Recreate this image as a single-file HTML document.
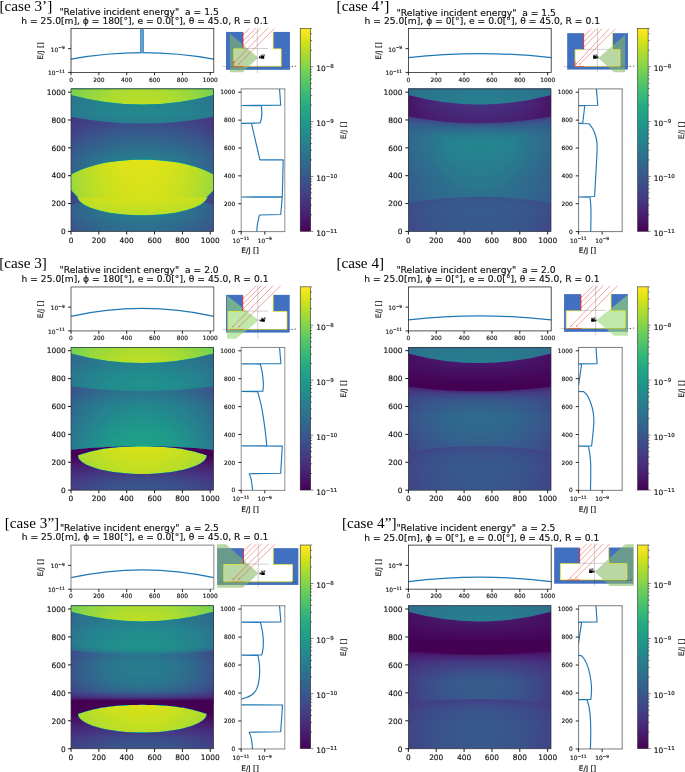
<!DOCTYPE html>
<html><head><meta charset="utf-8"><title>Relative incident energy</title>
<style>html,body{margin:0;padding:0;background:#fff}svg{display:block}</style></head>
<body><svg width="685" height="772" viewBox="0 0 685 772">
<defs><filter id="vir" x="0" y="0" width="1" height="1" color-interpolation-filters="sRGB"><feComponentTransfer><feFuncR type="table" tableValues="0.2670 0.2726 0.2770 0.2803 0.2823 0.2832 0.2829 0.2814 0.2788 0.2752 0.2706 0.2651 0.2590 0.2522 0.2450 0.2374 0.2278 0.2201 0.2124 0.2049 0.1976 0.1906 0.1839 0.1774 0.1712 0.1651 0.1592 0.1534 0.1476 0.1419 0.1364 0.1312 0.1254 0.1218 0.1197 0.1197 0.1223 0.1281 0.1373 0.1501 0.1664 0.1858 0.2080 0.2328 0.2599 0.2889 0.3198 0.3524 0.3952 0.4310 0.4681 0.5063 0.5455 0.5857 0.6266 0.6681 0.7099 0.7519 0.7938 0.8353 0.8762 0.9162 0.9553 0.9932"/><feFuncG type="table" tableValues="0.0049 0.0256 0.0503 0.0734 0.0950 0.1157 0.1359 0.1558 0.1755 0.1949 0.2141 0.2330 0.2515 0.2698 0.2877 0.3052 0.3266 0.3433 0.3597 0.3757 0.3915 0.4071 0.4224 0.4375 0.4525 0.4674 0.4822 0.4970 0.5117 0.5265 0.5412 0.5559 0.5743 0.5891 0.6038 0.6185 0.6332 0.6477 0.6623 0.6766 0.6909 0.7049 0.7187 0.7322 0.7455 0.7584 0.7709 0.7830 0.7975 0.8085 0.8189 0.8288 0.8380 0.8467 0.8546 0.8620 0.8688 0.8750 0.8807 0.8860 0.8911 0.8961 0.9011 0.9062"/><feFuncB type="table" tableValues="0.3294 0.3531 0.3757 0.3972 0.4173 0.4361 0.4534 0.4692 0.4834 0.4960 0.5071 0.5166 0.5247 0.5316 0.5373 0.5419 0.5465 0.5494 0.5517 0.5535 0.5550 0.5561 0.5569 0.5576 0.5580 0.5581 0.5581 0.5577 0.5570 0.5560 0.5545 0.5525 0.5491 0.5456 0.5414 0.5363 0.5304 0.5235 0.5156 0.5066 0.4965 0.4853 0.4729 0.4593 0.4445 0.4284 0.4112 0.3926 0.3678 0.3465 0.3240 0.3004 0.2756 0.2499 0.2234 0.1963 0.1693 0.1432 0.1200 0.1026 0.0953 0.1007 0.1181 0.1439"/></feComponentTransfer></filter><linearGradient id="cbar" x1="0" y1="0" x2="0" y2="1"><stop offset="0.0000" stop-color="#fde725"/><stop offset="0.0312" stop-color="#ece51b"/><stop offset="0.0625" stop-color="#d8e219"/><stop offset="0.0938" stop-color="#c2df23"/><stop offset="0.1250" stop-color="#addc30"/><stop offset="0.1562" stop-color="#98d83e"/><stop offset="0.1875" stop-color="#84d44b"/><stop offset="0.2188" stop-color="#70cf57"/><stop offset="0.2500" stop-color="#5ec962"/><stop offset="0.2812" stop-color="#4ec36b"/><stop offset="0.3125" stop-color="#3fbc73"/><stop offset="0.3438" stop-color="#32b67a"/><stop offset="0.3750" stop-color="#28ae80"/><stop offset="0.4062" stop-color="#22a785"/><stop offset="0.4375" stop-color="#1fa088"/><stop offset="0.4688" stop-color="#1f988b"/><stop offset="0.5000" stop-color="#21918c"/><stop offset="0.5312" stop-color="#23898e"/><stop offset="0.5625" stop-color="#26828e"/><stop offset="0.5938" stop-color="#297a8e"/><stop offset="0.6250" stop-color="#2c728e"/><stop offset="0.6562" stop-color="#2f6b8e"/><stop offset="0.6875" stop-color="#33638d"/><stop offset="0.7188" stop-color="#375b8d"/><stop offset="0.7500" stop-color="#3b528b"/><stop offset="0.7812" stop-color="#3e4989"/><stop offset="0.8125" stop-color="#424086"/><stop offset="0.8438" stop-color="#453781"/><stop offset="0.8750" stop-color="#472d7b"/><stop offset="0.9062" stop-color="#482374"/><stop offset="0.9375" stop-color="#48186a"/><stop offset="0.9688" stop-color="#470d60"/><stop offset="1.0000" stop-color="#440154"/></linearGradient><linearGradient id="g1" gradientUnits="userSpaceOnUse" x1="0" y1="0" x2="0" y2="250"><stop offset="0.0000" stop-color="#5a5a5a"/><stop offset="0.4800" stop-color="#6a6a6a"/><stop offset="1.0000" stop-color="#6b6b6b"/></linearGradient><linearGradient id="g2" gradientUnits="userSpaceOnUse" x1="0" y1="0" x2="1024" y2="0"><stop offset="0.00" stop-color="#000" stop-opacity="0.280"/><stop offset="0.10" stop-color="#000" stop-opacity="0.179"/><stop offset="0.20" stop-color="#000" stop-opacity="0.101"/><stop offset="0.30" stop-color="#000" stop-opacity="0.045"/><stop offset="0.40" stop-color="#000" stop-opacity="0.011"/><stop offset="0.50" stop-color="#000" stop-opacity="0.000"/><stop offset="0.60" stop-color="#000" stop-opacity="0.011"/><stop offset="0.70" stop-color="#000" stop-opacity="0.045"/><stop offset="0.80" stop-color="#000" stop-opacity="0.101"/><stop offset="0.90" stop-color="#000" stop-opacity="0.179"/><stop offset="1.00" stop-color="#000" stop-opacity="0.280"/></linearGradient><linearGradient id="g3" gradientUnits="userSpaceOnUse" x1="0" y1="244" x2="0" y2="830"><stop offset="0.0000" stop-color="#737373"/><stop offset="0.4608" stop-color="#6e6e6e"/><stop offset="0.9078" stop-color="#3c3c3c"/><stop offset="1.0000" stop-color="#383838"/></linearGradient><linearGradient id="g4" gradientUnits="userSpaceOnUse" x1="0" y1="0" x2="1024" y2="0"><stop offset="0.00" stop-color="#000" stop-opacity="0.300"/><stop offset="0.10" stop-color="#000" stop-opacity="0.192"/><stop offset="0.20" stop-color="#000" stop-opacity="0.108"/><stop offset="0.30" stop-color="#000" stop-opacity="0.048"/><stop offset="0.40" stop-color="#000" stop-opacity="0.012"/><stop offset="0.50" stop-color="#000" stop-opacity="0.000"/><stop offset="0.60" stop-color="#000" stop-opacity="0.012"/><stop offset="0.70" stop-color="#000" stop-opacity="0.048"/><stop offset="0.80" stop-color="#000" stop-opacity="0.108"/><stop offset="0.90" stop-color="#000" stop-opacity="0.192"/><stop offset="1.00" stop-color="#000" stop-opacity="0.300"/></linearGradient><linearGradient id="g5" gradientUnits="userSpaceOnUse" x1="0" y1="776" x2="0" y2="980"><stop offset="0.0000" stop-color="#6d6d6d"/><stop offset="0.3627" stop-color="#797979"/><stop offset="0.6324" stop-color="#757575"/><stop offset="1.0000" stop-color="#737373"/></linearGradient><linearGradient id="g6" gradientUnits="userSpaceOnUse" x1="0" y1="0" x2="1024" y2="0"><stop offset="0.00" stop-color="#000" stop-opacity="0.130"/><stop offset="0.10" stop-color="#000" stop-opacity="0.083"/><stop offset="0.20" stop-color="#000" stop-opacity="0.047"/><stop offset="0.30" stop-color="#000" stop-opacity="0.021"/><stop offset="0.40" stop-color="#000" stop-opacity="0.005"/><stop offset="0.50" stop-color="#000" stop-opacity="0.000"/><stop offset="0.60" stop-color="#000" stop-opacity="0.005"/><stop offset="0.70" stop-color="#000" stop-opacity="0.021"/><stop offset="0.80" stop-color="#000" stop-opacity="0.047"/><stop offset="0.90" stop-color="#000" stop-opacity="0.083"/><stop offset="1.00" stop-color="#000" stop-opacity="0.130"/></linearGradient><linearGradient id="g7" gradientUnits="userSpaceOnUse" x1="0" y1="900" x2="0" y2="1024"><stop offset="0.0000" stop-color="#e7e7e7"/><stop offset="1.0000" stop-color="#dfdfdf"/></linearGradient><linearGradient id="g8" gradientUnits="userSpaceOnUse" x1="0" y1="0" x2="1024" y2="0"><stop offset="0.00" stop-color="#000" stop-opacity="0.100"/><stop offset="0.10" stop-color="#000" stop-opacity="0.064"/><stop offset="0.20" stop-color="#000" stop-opacity="0.036"/><stop offset="0.30" stop-color="#000" stop-opacity="0.016"/><stop offset="0.40" stop-color="#000" stop-opacity="0.004"/><stop offset="0.50" stop-color="#000" stop-opacity="0.000"/><stop offset="0.60" stop-color="#000" stop-opacity="0.004"/><stop offset="0.70" stop-color="#000" stop-opacity="0.016"/><stop offset="0.80" stop-color="#000" stop-opacity="0.036"/><stop offset="0.90" stop-color="#000" stop-opacity="0.064"/><stop offset="1.00" stop-color="#000" stop-opacity="0.100"/></linearGradient><linearGradient id="g9" gradientUnits="userSpaceOnUse" x1="0" y1="240" x2="0" y2="514"><stop offset="0.0000" stop-color="#efefef"/><stop offset="1.0000" stop-color="#f4f4f4"/></linearGradient><linearGradient id="g10" gradientUnits="userSpaceOnUse" x1="0" y1="116" x2="0" y2="243"><stop offset="0.0000" stop-color="#e6e6e6"/><stop offset="1.0000" stop-color="#efefef"/></linearGradient><linearGradient id="g11" gradientUnits="userSpaceOnUse" x1="0" y1="0" x2="1024" y2="0"><stop offset="0.00" stop-color="#000" stop-opacity="0.040"/><stop offset="0.10" stop-color="#000" stop-opacity="0.026"/><stop offset="0.20" stop-color="#000" stop-opacity="0.014"/><stop offset="0.30" stop-color="#000" stop-opacity="0.006"/><stop offset="0.40" stop-color="#000" stop-opacity="0.002"/><stop offset="0.50" stop-color="#000" stop-opacity="0.000"/><stop offset="0.60" stop-color="#000" stop-opacity="0.002"/><stop offset="0.70" stop-color="#000" stop-opacity="0.006"/><stop offset="0.80" stop-color="#000" stop-opacity="0.014"/><stop offset="0.90" stop-color="#000" stop-opacity="0.026"/><stop offset="1.00" stop-color="#000" stop-opacity="0.040"/></linearGradient><linearGradient id="g12" gradientUnits="userSpaceOnUse" x1="0" y1="0" x2="0" y2="250"><stop offset="0.0000" stop-color="#464646"/><stop offset="0.6800" stop-color="#494949"/><stop offset="1.0000" stop-color="#424242"/></linearGradient><linearGradient id="g13" gradientUnits="userSpaceOnUse" x1="0" y1="0" x2="1024" y2="0"><stop offset="0.00" stop-color="#000" stop-opacity="0.180"/><stop offset="0.10" stop-color="#000" stop-opacity="0.115"/><stop offset="0.20" stop-color="#000" stop-opacity="0.065"/><stop offset="0.30" stop-color="#000" stop-opacity="0.029"/><stop offset="0.40" stop-color="#000" stop-opacity="0.007"/><stop offset="0.50" stop-color="#000" stop-opacity="0.000"/><stop offset="0.60" stop-color="#000" stop-opacity="0.007"/><stop offset="0.70" stop-color="#000" stop-opacity="0.029"/><stop offset="0.80" stop-color="#000" stop-opacity="0.065"/><stop offset="0.90" stop-color="#000" stop-opacity="0.115"/><stop offset="1.00" stop-color="#000" stop-opacity="0.180"/></linearGradient><linearGradient id="g14" gradientUnits="userSpaceOnUse" x1="0" y1="200" x2="0" y2="830"><stop offset="0.0000" stop-color="#5c5c5c"/><stop offset="0.3175" stop-color="#636363"/><stop offset="0.6349" stop-color="#6d6d6d"/><stop offset="1.0000" stop-color="#6d6d6d"/></linearGradient><linearGradient id="g15" gradientUnits="userSpaceOnUse" x1="0" y1="0" x2="1024" y2="0"><stop offset="0.00" stop-color="#000" stop-opacity="0.210"/><stop offset="0.10" stop-color="#000" stop-opacity="0.134"/><stop offset="0.20" stop-color="#000" stop-opacity="0.076"/><stop offset="0.30" stop-color="#000" stop-opacity="0.034"/><stop offset="0.40" stop-color="#000" stop-opacity="0.008"/><stop offset="0.50" stop-color="#000" stop-opacity="0.000"/><stop offset="0.60" stop-color="#000" stop-opacity="0.008"/><stop offset="0.70" stop-color="#000" stop-opacity="0.034"/><stop offset="0.80" stop-color="#000" stop-opacity="0.076"/><stop offset="0.90" stop-color="#000" stop-opacity="0.134"/><stop offset="1.00" stop-color="#000" stop-opacity="0.210"/></linearGradient><radialGradient id="g16" gradientUnits="userSpaceOnUse" cx="512" cy="3450.94" r="2824.94"><stop offset="0.94690" stop-color="#000" stop-opacity="0.450"/><stop offset="0.96124" stop-color="#000" stop-opacity="0.200"/><stop offset="0.98779" stop-color="#000" stop-opacity="0.020"/><stop offset="1.00000" stop-color="#000" stop-opacity="0.000"/></radialGradient><linearGradient id="g17" gradientUnits="userSpaceOnUse" x1="0" y1="776" x2="0" y2="980"><stop offset="0.0000" stop-color="#181818"/><stop offset="0.6324" stop-color="#242424"/><stop offset="1.0000" stop-color="#242424"/></linearGradient><linearGradient id="g18" gradientUnits="userSpaceOnUse" x1="0" y1="0" x2="1024" y2="0"><stop offset="0.00" stop-color="#000" stop-opacity="0.600"/><stop offset="0.10" stop-color="#000" stop-opacity="0.384"/><stop offset="0.20" stop-color="#000" stop-opacity="0.216"/><stop offset="0.30" stop-color="#000" stop-opacity="0.096"/><stop offset="0.40" stop-color="#000" stop-opacity="0.024"/><stop offset="0.50" stop-color="#000" stop-opacity="0.000"/><stop offset="0.60" stop-color="#000" stop-opacity="0.024"/><stop offset="0.70" stop-color="#000" stop-opacity="0.096"/><stop offset="0.80" stop-color="#000" stop-opacity="0.216"/><stop offset="0.90" stop-color="#000" stop-opacity="0.384"/><stop offset="1.00" stop-color="#000" stop-opacity="0.600"/></linearGradient><linearGradient id="g19" gradientUnits="userSpaceOnUse" x1="0" y1="900" x2="0" y2="1024"><stop offset="0.0000" stop-color="#707070"/><stop offset="1.0000" stop-color="#676767"/></linearGradient><linearGradient id="g20" gradientUnits="userSpaceOnUse" x1="0" y1="0" x2="1024" y2="0"><stop offset="0.00" stop-color="#000" stop-opacity="0.120"/><stop offset="0.10" stop-color="#000" stop-opacity="0.077"/><stop offset="0.20" stop-color="#000" stop-opacity="0.043"/><stop offset="0.30" stop-color="#000" stop-opacity="0.019"/><stop offset="0.40" stop-color="#000" stop-opacity="0.005"/><stop offset="0.50" stop-color="#000" stop-opacity="0.000"/><stop offset="0.60" stop-color="#000" stop-opacity="0.005"/><stop offset="0.70" stop-color="#000" stop-opacity="0.019"/><stop offset="0.80" stop-color="#000" stop-opacity="0.043"/><stop offset="0.90" stop-color="#000" stop-opacity="0.077"/><stop offset="1.00" stop-color="#000" stop-opacity="0.120"/></linearGradient><radialGradient id="g21" gradientUnits="userSpaceOnUse" cx="0" cy="0" r="1" gradientTransform="translate(512 0) scale(1260 280)"><stop offset="0.0000" stop-color="#444444"/><stop offset="0.1400" stop-color="#424242"/><stop offset="0.2750" stop-color="#3c3c3c"/><stop offset="0.4300" stop-color="#2e2e2e"/><stop offset="0.5800" stop-color="#212121"/><stop offset="0.8750" stop-color="#080808"/><stop offset="0.9700" stop-color="#000000"/></radialGradient><linearGradient id="g22" gradientUnits="userSpaceOnUse" x1="0" y1="285" x2="0" y2="750"><stop offset="0.0000" stop-color="#969696"/><stop offset="0.3247" stop-color="#8b8b8b"/><stop offset="0.6774" stop-color="#787878"/><stop offset="0.9118" stop-color="#606060"/><stop offset="1.0000" stop-color="#5c5c5c"/></linearGradient><linearGradient id="g23" gradientUnits="userSpaceOnUse" x1="0" y1="0" x2="1024" y2="0"><stop offset="0.00" stop-color="#000" stop-opacity="0.310"/><stop offset="0.10" stop-color="#000" stop-opacity="0.198"/><stop offset="0.20" stop-color="#000" stop-opacity="0.112"/><stop offset="0.30" stop-color="#000" stop-opacity="0.050"/><stop offset="0.40" stop-color="#000" stop-opacity="0.012"/><stop offset="0.50" stop-color="#000" stop-opacity="0.000"/><stop offset="0.60" stop-color="#000" stop-opacity="0.012"/><stop offset="0.70" stop-color="#000" stop-opacity="0.050"/><stop offset="0.80" stop-color="#000" stop-opacity="0.112"/><stop offset="0.90" stop-color="#000" stop-opacity="0.198"/><stop offset="1.00" stop-color="#000" stop-opacity="0.310"/></linearGradient><linearGradient id="g24" gradientUnits="userSpaceOnUse" x1="0" y1="710" x2="0" y2="980"><stop offset="0.0000" stop-color="#7e7e7e"/><stop offset="0.1963" stop-color="#828282"/><stop offset="0.4963" stop-color="#7b7b7b"/><stop offset="0.7259" stop-color="#707070"/><stop offset="1.0000" stop-color="#6b6b6b"/></linearGradient><linearGradient id="g25" gradientUnits="userSpaceOnUse" x1="0" y1="0" x2="1024" y2="0"><stop offset="0.00" stop-color="#000" stop-opacity="0.200"/><stop offset="0.10" stop-color="#000" stop-opacity="0.128"/><stop offset="0.20" stop-color="#000" stop-opacity="0.072"/><stop offset="0.30" stop-color="#000" stop-opacity="0.032"/><stop offset="0.40" stop-color="#000" stop-opacity="0.008"/><stop offset="0.50" stop-color="#000" stop-opacity="0.000"/><stop offset="0.60" stop-color="#000" stop-opacity="0.008"/><stop offset="0.70" stop-color="#000" stop-opacity="0.032"/><stop offset="0.80" stop-color="#000" stop-opacity="0.072"/><stop offset="0.90" stop-color="#000" stop-opacity="0.128"/><stop offset="1.00" stop-color="#000" stop-opacity="0.200"/></linearGradient><linearGradient id="g26" gradientUnits="userSpaceOnUse" x1="0" y1="900" x2="0" y2="1024"><stop offset="0.0000" stop-color="#e7e7e7"/><stop offset="1.0000" stop-color="#dfdfdf"/></linearGradient><linearGradient id="g27" gradientUnits="userSpaceOnUse" x1="0" y1="116" x2="0" y2="317"><stop offset="0.0000" stop-color="#e6e6e6"/><stop offset="1.0000" stop-color="#f1f1f1"/></linearGradient><linearGradient id="g28" gradientUnits="userSpaceOnUse" x1="0" y1="0" x2="1024" y2="0"><stop offset="0.00" stop-color="#000" stop-opacity="0.080"/><stop offset="0.10" stop-color="#000" stop-opacity="0.051"/><stop offset="0.20" stop-color="#000" stop-opacity="0.029"/><stop offset="0.30" stop-color="#000" stop-opacity="0.013"/><stop offset="0.40" stop-color="#000" stop-opacity="0.003"/><stop offset="0.50" stop-color="#000" stop-opacity="0.000"/><stop offset="0.60" stop-color="#000" stop-opacity="0.003"/><stop offset="0.70" stop-color="#000" stop-opacity="0.013"/><stop offset="0.80" stop-color="#000" stop-opacity="0.029"/><stop offset="0.90" stop-color="#000" stop-opacity="0.051"/><stop offset="1.00" stop-color="#000" stop-opacity="0.080"/></linearGradient><linearGradient id="g29" gradientUnits="userSpaceOnUse" x1="0" y1="0" x2="0" y2="317"><stop offset="0.0000" stop-color="#454545"/><stop offset="0.5521" stop-color="#474747"/><stop offset="0.8076" stop-color="#424242"/><stop offset="1.0000" stop-color="#393939"/></linearGradient><linearGradient id="g30" gradientUnits="userSpaceOnUse" x1="0" y1="0" x2="1024" y2="0"><stop offset="0.00" stop-color="#000" stop-opacity="0.220"/><stop offset="0.10" stop-color="#000" stop-opacity="0.141"/><stop offset="0.20" stop-color="#000" stop-opacity="0.079"/><stop offset="0.30" stop-color="#000" stop-opacity="0.035"/><stop offset="0.40" stop-color="#000" stop-opacity="0.009"/><stop offset="0.50" stop-color="#000" stop-opacity="0.000"/><stop offset="0.60" stop-color="#000" stop-opacity="0.009"/><stop offset="0.70" stop-color="#000" stop-opacity="0.035"/><stop offset="0.80" stop-color="#000" stop-opacity="0.079"/><stop offset="0.90" stop-color="#000" stop-opacity="0.141"/><stop offset="1.00" stop-color="#000" stop-opacity="0.220"/></linearGradient><linearGradient id="g31" gradientUnits="userSpaceOnUse" x1="0" y1="270" x2="0" y2="750"><stop offset="0.0000" stop-color="#4a4a4a"/><stop offset="0.3458" stop-color="#565656"/><stop offset="0.5167" stop-color="#5a5a5a"/><stop offset="0.6875" stop-color="#505050"/><stop offset="1.0000" stop-color="#4c4c4c"/></linearGradient><radialGradient id="g32" gradientUnits="userSpaceOnUse" cx="512" cy="4453.91" r="3914.91"><stop offset="0.95658" stop-color="#000" stop-opacity="0.640"/><stop offset="0.96374" stop-color="#000" stop-opacity="0.300"/><stop offset="0.97395" stop-color="#000" stop-opacity="0.100"/><stop offset="0.98437" stop-color="#000" stop-opacity="0.000"/><stop offset="1.00000" stop-color="#000" stop-opacity="0.000"/></radialGradient><linearGradient id="g33" gradientUnits="userSpaceOnUse" x1="0" y1="700" x2="0" y2="980"><stop offset="0.0000" stop-color="#000000"/><stop offset="0.1964" stop-color="#000000"/><stop offset="0.5143" stop-color="#0a0a0a"/><stop offset="0.7357" stop-color="#111111"/><stop offset="1.0000" stop-color="#141414"/></linearGradient><linearGradient id="g34" gradientUnits="userSpaceOnUse" x1="0" y1="0" x2="1024" y2="0"><stop offset="0.00" stop-color="#000" stop-opacity="0.500"/><stop offset="0.10" stop-color="#000" stop-opacity="0.320"/><stop offset="0.20" stop-color="#000" stop-opacity="0.180"/><stop offset="0.30" stop-color="#000" stop-opacity="0.080"/><stop offset="0.40" stop-color="#000" stop-opacity="0.020"/><stop offset="0.50" stop-color="#000" stop-opacity="0.000"/><stop offset="0.60" stop-color="#000" stop-opacity="0.020"/><stop offset="0.70" stop-color="#000" stop-opacity="0.080"/><stop offset="0.80" stop-color="#000" stop-opacity="0.180"/><stop offset="0.90" stop-color="#000" stop-opacity="0.320"/><stop offset="1.00" stop-color="#000" stop-opacity="0.500"/></linearGradient><linearGradient id="g35" gradientUnits="userSpaceOnUse" x1="0" y1="900" x2="0" y2="1024"><stop offset="0.0000" stop-color="#707070"/><stop offset="1.0000" stop-color="#676767"/></linearGradient><radialGradient id="g36" gradientUnits="userSpaceOnUse" cx="0" cy="0" r="1" gradientTransform="translate(512 0) scale(1260 280)"><stop offset="0.0000" stop-color="#444444"/><stop offset="0.1400" stop-color="#424242"/><stop offset="0.2750" stop-color="#3c3c3c"/><stop offset="0.4300" stop-color="#2e2e2e"/><stop offset="0.5800" stop-color="#212121"/><stop offset="0.8750" stop-color="#080808"/><stop offset="0.9700" stop-color="#000000"/></radialGradient><linearGradient id="g37" gradientUnits="userSpaceOnUse" x1="0" y1="320" x2="0" y2="710"><stop offset="0.0000" stop-color="#000000"/><stop offset="0.0795" stop-color="#000000"/><stop offset="0.0846" stop-color="#171717"/><stop offset="0.1436" stop-color="#363636"/><stop offset="0.2385" stop-color="#565656"/><stop offset="0.3846" stop-color="#666666"/><stop offset="0.5949" stop-color="#6d6d6d"/><stop offset="0.8051" stop-color="#686868"/><stop offset="0.8974" stop-color="#616161"/><stop offset="1.0000" stop-color="#5e5e5e"/></linearGradient><linearGradient id="g38" gradientUnits="userSpaceOnUse" x1="0" y1="0" x2="1024" y2="0"><stop offset="0.00" stop-color="#000" stop-opacity="0.400"/><stop offset="0.10" stop-color="#000" stop-opacity="0.256"/><stop offset="0.20" stop-color="#000" stop-opacity="0.144"/><stop offset="0.30" stop-color="#000" stop-opacity="0.064"/><stop offset="0.40" stop-color="#000" stop-opacity="0.016"/><stop offset="0.50" stop-color="#000" stop-opacity="0.000"/><stop offset="0.60" stop-color="#000" stop-opacity="0.016"/><stop offset="0.70" stop-color="#000" stop-opacity="0.064"/><stop offset="0.80" stop-color="#000" stop-opacity="0.144"/><stop offset="0.90" stop-color="#000" stop-opacity="0.256"/><stop offset="1.00" stop-color="#000" stop-opacity="0.400"/></linearGradient><linearGradient id="g39" gradientUnits="userSpaceOnUse" x1="0" y1="674" x2="0" y2="980"><stop offset="0.0000" stop-color="#808080"/><stop offset="0.0817" stop-color="#818181"/><stop offset="0.2941" stop-color="#828282"/><stop offset="0.5621" stop-color="#7b7b7b"/><stop offset="0.7549" stop-color="#707070"/><stop offset="1.0000" stop-color="#6b6b6b"/></linearGradient><radialGradient id="g40" gradientUnits="userSpaceOnUse" cx="512" cy="5193.72" r="4519.72"><stop offset="0.99004" stop-color="#000" stop-opacity="0.000"/><stop offset="0.99303" stop-color="#000" stop-opacity="0.030"/><stop offset="0.99652" stop-color="#000" stop-opacity="0.100"/><stop offset="1.00000" stop-color="#000" stop-opacity="0.200"/></radialGradient><linearGradient id="g41" gradientUnits="userSpaceOnUse" x1="0" y1="900" x2="0" y2="1024"><stop offset="0.0000" stop-color="#e7e7e7"/><stop offset="1.0000" stop-color="#dfdfdf"/></linearGradient><linearGradient id="g42" gradientUnits="userSpaceOnUse" x1="0" y1="116" x2="0" y2="317"><stop offset="0.0000" stop-color="#e6e6e6"/><stop offset="1.0000" stop-color="#f1f1f1"/></linearGradient><linearGradient id="g43" gradientUnits="userSpaceOnUse" x1="0" y1="0" x2="0" y2="356"><stop offset="0.0000" stop-color="#454545"/><stop offset="0.4944" stop-color="#474747"/><stop offset="0.8174" stop-color="#404040"/><stop offset="1.0000" stop-color="#313131"/></linearGradient><linearGradient id="g44" gradientUnits="userSpaceOnUse" x1="0" y1="0" x2="1024" y2="0"><stop offset="0.00" stop-color="#000" stop-opacity="0.250"/><stop offset="0.10" stop-color="#000" stop-opacity="0.160"/><stop offset="0.20" stop-color="#000" stop-opacity="0.090"/><stop offset="0.30" stop-color="#000" stop-opacity="0.040"/><stop offset="0.40" stop-color="#000" stop-opacity="0.010"/><stop offset="0.50" stop-color="#000" stop-opacity="0.000"/><stop offset="0.60" stop-color="#000" stop-opacity="0.010"/><stop offset="0.70" stop-color="#000" stop-opacity="0.040"/><stop offset="0.80" stop-color="#000" stop-opacity="0.090"/><stop offset="0.90" stop-color="#000" stop-opacity="0.160"/><stop offset="1.00" stop-color="#000" stop-opacity="0.250"/></linearGradient><linearGradient id="g45" gradientUnits="userSpaceOnUse" x1="0" y1="320" x2="0" y2="700"><stop offset="0.0000" stop-color="#454545"/><stop offset="0.3105" stop-color="#4c4c4c"/><stop offset="0.5684" stop-color="#474747"/><stop offset="1.0000" stop-color="#474747"/></linearGradient><linearGradient id="g46" gradientUnits="userSpaceOnUse" x1="0" y1="0" x2="1024" y2="0"><stop offset="0.00" stop-color="#000" stop-opacity="0.380"/><stop offset="0.10" stop-color="#000" stop-opacity="0.243"/><stop offset="0.20" stop-color="#000" stop-opacity="0.137"/><stop offset="0.30" stop-color="#000" stop-opacity="0.061"/><stop offset="0.40" stop-color="#000" stop-opacity="0.015"/><stop offset="0.50" stop-color="#000" stop-opacity="0.000"/><stop offset="0.60" stop-color="#000" stop-opacity="0.015"/><stop offset="0.70" stop-color="#000" stop-opacity="0.061"/><stop offset="0.80" stop-color="#000" stop-opacity="0.137"/><stop offset="0.90" stop-color="#000" stop-opacity="0.243"/><stop offset="1.00" stop-color="#000" stop-opacity="0.380"/></linearGradient><radialGradient id="g47" gradientUnits="userSpaceOnUse" cx="512" cy="6632.82" r="6157.82"><stop offset="0.96752" stop-color="#000" stop-opacity="0.850"/><stop offset="0.96898" stop-color="#000" stop-opacity="0.710"/><stop offset="0.97694" stop-color="#000" stop-opacity="0.360"/><stop offset="0.99026" stop-color="#000" stop-opacity="0.070"/><stop offset="1.00000" stop-color="#000" stop-opacity="0.000"/></radialGradient><linearGradient id="g48" gradientUnits="userSpaceOnUse" x1="0" y1="670" x2="0" y2="980"><stop offset="0.0000" stop-color="#000000"/><stop offset="0.2774" stop-color="#000000"/><stop offset="0.5677" stop-color="#0a0a0a"/><stop offset="0.7581" stop-color="#111111"/><stop offset="1.0000" stop-color="#141414"/></linearGradient><linearGradient id="g49" gradientUnits="userSpaceOnUse" x1="0" y1="900" x2="0" y2="1024"><stop offset="0.0000" stop-color="#707070"/><stop offset="1.0000" stop-color="#676767"/></linearGradient><clipPath id="sclip"><rect x="241.20" y="88.90" width="43.60" height="142.70"/></clipPath></defs>
<rect width="685" height="772" fill="#fff"/>
<g transform="translate(0.00 0.00) scale(1 1.0000)"><text x="-0.50" y="10.90" font-size="15.2" font-family="Liberation Serif, serif" fill="#000">[case 3’]</text><g font-family="DejaVu Sans, Liberation Sans, sans-serif" fill="#111" stroke="#111" stroke-width="0.16"><text x="59.40" y="15.40" font-size="9.16" style="white-space:pre">"Relative incident energy"  a = 1.5</text><text x="21.30" y="24.30" font-size="9.16">h = 25.0[m], ϕ = 180[°], e = 0.0[°], θ = 45.0, R = 0.1</text><rect x="71.00" y="28.50" width="142.80" height="43.90" fill="#fff" stroke="none"/><path d="M71.00 59.10 Q142.40 46.10 213.80 59.10" fill="none" stroke="#1f77b4" stroke-width="1.25"/><path d="M140.65 52.60 V29.7 h2.7 V52.60" fill="#6fa6d0" stroke="#3f87bf" stroke-width="1.0" stroke-linejoin="round"/><rect x="71.00" y="28.50" width="142.80" height="43.90" fill="none" stroke="#1a1a1a" stroke-width="0.75"/><text x="71.00" y="81.70" font-size="5.90" text-anchor="middle" >0</text><text x="98.85" y="81.70" font-size="5.90" text-anchor="middle" >200</text><text x="126.70" y="81.70" font-size="5.90" text-anchor="middle" >400</text><text x="154.55" y="81.70" font-size="5.90" text-anchor="middle" >600</text><text x="182.41" y="81.70" font-size="5.90" text-anchor="middle" >800</text><text x="210.26" y="81.70" font-size="5.90" text-anchor="middle" >1000</text><text x="64.70" y="75.30" font-size="5.90" text-anchor="end" >10<tspan dy="-2.36" font-size="4.37">−11</tspan></text><text x="64.70" y="51.56" font-size="5.90" text-anchor="end" >10<tspan dy="-2.36" font-size="4.37">−9</tspan></text><path d="M71.00 72.40 v2.9 M98.85 72.40 v2.9 M126.70 72.40 v2.9 M154.55 72.40 v2.9 M182.41 72.40 v2.9 M210.26 72.40 v2.9 M71.00 72.40 h-2.9 M71.00 48.66 h-2.9 " stroke="#000" stroke-width="0.85" fill="none"/><text transform="translate(43.4 51) rotate(-90)" font-size="7.45" text-anchor="middle">E/J []</text><g filter="url(#vir)" stroke="none"><g transform="translate(71 231.4) scale(0.139258 -0.139258)"><path d="M0 0H1024V1024H0Z" fill="url(#g1)"/><path d="M0 0H1024V1024H0Z" fill="url(#g2)"/><path d="M0 1024 L1024 1024 L1024 244 L0 244 Z" fill="url(#g3)"/><path d="M0 1024 L1024 1024 L1024 244 L0 244 Z" fill="url(#g4)"/><path d="M0 190 L70 212 L0 300 Z M1024 190 L954 212 L1024 300 Z" fill="#363636"/><path d="M0 1024 L1024 1024 L1024 824 Q512 726 0 824 Z" fill="url(#g5)"/><path d="M0 1024 L1024 1024 L1024 824 Q512 726 0 824 Z" fill="url(#g6)"/><path d="M0 1024 L1024 1024 L1024 980 Q512 842 0 980 Z" fill="url(#g7)"/><path d="M0 1024 L1024 1024 L1024 980 Q512 842 0 980 Z" fill="url(#g8)"/><path d="M0 408 L43 431 L85 448 L128 463 L171 475 L213 485 L256 494 L299 500 L341 506 L384 510 L427 513 L469 514 L512 515 L555 514 L597 513 L640 510 L683 506 L725 500 L768 494 L811 485 L853 475 L896 463 L939 448 L981 431 L1024 408 L1024 295 L969 240 L55 240 L0 295 Z" fill="url(#g9)"/><path d="M0 408 L43 431 L85 448 L128 463 L171 475 L213 485 L256 494 L299 500 L341 506 L384 510 L427 513 L469 514 L512 515 L555 514 L597 513 L640 510 L683 506 L725 500 L768 494 L811 485 L853 475 L896 463 L939 448 L981 431 L1024 408 L1024 295 L969 240 L55 240 L0 295 Z" fill="url(#g8)"/><path d="M43 243 L981 243 L961 215 959 215 L949 206 L937 197 L923 188 L906 180 L888 172 L867 164 L845 157 L820 150 L794 144 L767 138 L738 133 L708 129 L677 125 L645 122 L612 119 L579 117 L546 116 L512 116 L478 116 L445 117 L412 119 L379 122 L347 125 L316 129 L286 133 L257 138 L230 144 L204 150 L179 157 L157 164 L136 172 L118 180 L101 188 L87 197 L75 206 L65 215 L63 215 Z" fill="url(#g10)"/><path d="M43 243 L981 243 L961 215 959 215 L949 206 L937 197 L923 188 L906 180 L888 172 L867 164 L845 157 L820 150 L794 144 L767 138 L738 133 L708 129 L677 125 L645 122 L612 119 L579 117 L546 116 L512 116 L478 116 L445 117 L412 119 L379 122 L347 125 L316 129 L286 133 L257 138 L230 144 L204 150 L179 157 L157 164 L136 172 L118 180 L101 188 L87 197 L75 206 L65 215 L63 215 Z" fill="url(#g11)"/></g></g><rect x="71.00" y="88.90" width="142.60" height="142.50" fill="none" stroke="#333" stroke-width="0.7"/><text x="71.00" y="242.70" font-size="7.45" text-anchor="middle" >0</text><text x="65.80" y="234.15" font-size="7.45" text-anchor="end" >0</text><text x="98.85" y="242.70" font-size="7.45" text-anchor="middle" >200</text><text x="65.80" y="206.30" font-size="7.45" text-anchor="end" >200</text><text x="126.70" y="242.70" font-size="7.45" text-anchor="middle" >400</text><text x="65.80" y="178.45" font-size="7.45" text-anchor="end" >400</text><text x="154.55" y="242.70" font-size="7.45" text-anchor="middle" >600</text><text x="65.80" y="150.60" font-size="7.45" text-anchor="end" >600</text><text x="182.41" y="242.70" font-size="7.45" text-anchor="middle" >800</text><text x="65.80" y="122.74" font-size="7.45" text-anchor="end" >800</text><text x="210.26" y="242.70" font-size="7.45" text-anchor="middle" >1000</text><text x="65.80" y="94.89" font-size="7.45" text-anchor="end" >1000</text><path d="M71.00 231.40 v3.1 M71.00 231.40 h-3.1 M98.85 231.40 v3.1 M71.00 203.55 h-3.1 M126.70 231.40 v3.1 M71.00 175.70 h-3.1 M154.55 231.40 v3.1 M71.00 147.85 h-3.1 M182.41 231.40 v3.1 M71.00 119.99 h-3.1 M210.26 231.40 v3.1 M71.00 92.14 h-3.1 " stroke="#000" stroke-width="0.9" fill="none"/><rect x="241.20" y="88.90" width="43.60" height="142.70" fill="#fff" stroke="none"/><path d="M256.72 231.60 L257.06 227.62 Q257.41 223.63 258.43 219.31 L259.46 214.99 L280.69 214.53 L282.29 197.23 L238.92 197.01 L282.29 196.78 L283.20 159.91 L259.92 159.91 L251.47 123.49 L238.92 123.49 L259.92 123.04 L260.72 120.99 Q261.52 118.94 261.74 115.53 L261.74 115.53 Q261.97 112.11 261.63 108.93 L261.29 105.74 L238.92 105.51 L280.69 105.29 L279.55 88.90" fill="none" stroke="#1f77b4" stroke-width="1.15" stroke-linejoin="round" clip-path="url(#sclip)"/><path d="M241.20 88.90 V231.60 M284.80 88.90 V231.60" fill="none" stroke="#8a8a8a" stroke-width="0.95"/><path d="M240.72 88.90 H285.28 M240.72 231.60 H285.28" fill="none" stroke="#444" stroke-width="0.65"/><text x="235.30" y="233.75" font-size="5.90" text-anchor="end" >0</text><text x="235.30" y="205.88" font-size="5.90" text-anchor="end" >200</text><text x="235.30" y="178.01" font-size="5.90" text-anchor="end" >400</text><text x="235.30" y="150.14" font-size="5.90" text-anchor="end" >600</text><text x="235.30" y="122.27" font-size="5.90" text-anchor="end" >800</text><text x="235.30" y="94.39" font-size="5.90" text-anchor="end" >1000</text><text x="240.90" y="242.50" font-size="5.90" text-anchor="middle" >10<tspan dy="-2.36" font-size="4.37">−11</tspan></text><text x="264.77" y="242.50" font-size="5.90" text-anchor="middle" >10<tspan dy="-2.36" font-size="4.37">−9</tspan></text><path d="M241.20 231.60 h-2.9 M241.20 203.73 h-2.9 M241.20 175.86 h-2.9 M241.20 147.99 h-2.9 M241.20 120.12 h-2.9 M241.20 92.24 h-2.9 M241.20 231.60 v2.9 M264.77 231.60 v2.9 " stroke="#000" stroke-width="0.85" fill="none"/><text x="241.3" y="253.2" font-size="7.45">E/J []</text><rect x="300.20" y="28.40" width="10.50" height="202.90" fill="url(#cbar)" stroke="#222" stroke-width="0.55"/><text x="316.30" y="235.90" font-size="7.45" text-anchor="start" >10<tspan dy="-2.98" font-size="5.51">−11</tspan></text><text x="316.30" y="181.05" font-size="7.45" text-anchor="start" >10<tspan dy="-2.98" font-size="5.51">−10</tspan></text><text x="316.30" y="126.19" font-size="7.45" text-anchor="start" >10<tspan dy="-2.98" font-size="5.51">−9</tspan></text><text x="316.30" y="71.34" font-size="7.45" text-anchor="start" >10<tspan dy="-2.98" font-size="5.51">−8</tspan></text><path d="M310.70 231.30 h2.7 M310.70 214.79 h1.5 M310.70 205.13 h1.5 M310.70 198.28 h1.5 M310.70 192.96 h1.5 M310.70 188.62 h1.5 M310.70 184.94 h1.5 M310.70 181.76 h1.5 M310.70 178.96 h1.5 M310.70 176.45 h2.7 M310.70 159.94 h1.5 M310.70 150.28 h1.5 M310.70 143.42 h1.5 M310.70 138.11 h1.5 M310.70 133.76 h1.5 M310.70 130.09 h1.5 M310.70 126.91 h1.5 M310.70 124.10 h1.5 M310.70 121.59 h2.7 M310.70 105.08 h1.5 M310.70 95.42 h1.5 M310.70 88.57 h1.5 M310.70 83.25 h1.5 M310.70 78.91 h1.5 M310.70 75.24 h1.5 M310.70 72.06 h1.5 M310.70 69.25 h1.5 M310.70 66.74 h2.7 M310.70 50.23 h1.5 M310.70 40.57 h1.5 M310.70 33.72 h1.5 M310.70 28.40 h1.5 " stroke="#222" stroke-width="0.55" fill="none"/><text transform="translate(346.2 130.4) rotate(-90)" font-size="7.45" text-anchor="middle">E/J []</text></g><g><rect x="226.03" y="31.91" width="63.90" height="37.92" fill="#4270c0"/><rect x="242.98" y="30.91" width="30.13" height="19.45" fill="#fff"/><rect x="233.81" y="48.86" width="47.33" height="17.58" fill="#fff"/><polygon points="229.79 33.42 258.29 57.65 242.60 72.34 229.79 72.34" fill="#87b964" fill-opacity="0.58"/><path d="M242.98 48.86 L233.81 48.86 L233.81 66.44 L281.14 66.44 L281.14 48.86 L273.11 48.86 L273.11 31.91" fill="none" stroke="#f0ec30" stroke-width="0.75"/><path d="M257.29 27.77 L257.29 72.96 M222.51 66.44 L292.19 66.44 M242.98 48.48 L268.08 48.48" stroke="#444" stroke-width="0.25" fill="none"/><path d="M293.19 66.44 l-1.2 -0.6 v1.2 z" fill="#111"/><text x="294.70" y="67.34" font-size="2.8" font-family="DejaVu Sans, Liberation Sans, sans-serif" fill="#222">x</text><path d="M249.50 28.39 L242.98 34.92 M255.53 28.39 L242.98 40.95 M260.43 28.39 L242.98 45.85 M267.71 28.39 L233.56 63.17 M274.61 28.39 L238.20 64.43 " stroke="#e23b30" stroke-width="0.46" fill="none"/><path d="M233.56 63.17 l1.3 -0.3 l-1 -1 z" fill="#e23b30"/><path d="M238.20 64.43 l1.3 -0.3 l-1 -1 z" fill="#e23b30"/><path d="M242.98 32.16 L242.98 48.36" stroke="#e81c24" stroke-width="0.8" fill="none"/><path d="M243.73 34.96 l-1.0 0 l0.9 -0.8 z" fill="#e81c24"/><path d="M243.73 40.38 l-1.0 0 l0.9 -0.8 z" fill="#e81c24"/><path d="M243.73 45.81 l-1.0 0 l0.9 -0.8 z" fill="#e81c24"/><path d="M233.81 66.44 L243.85 66.44" stroke="#e8402a" stroke-width="0.7" fill="none"/><path d="M233.81 66.44 L233.81 61.04" stroke="#e8402a" stroke-width="0.7" fill="none"/><rect x="260.64" y="55.99" width="3.6" height="2.7" rx="0.3" fill="#000"/><path d="M261.24 57.34 l-2.20 -1.3 v2.6 z" fill="#000"/><text x="262.74" y="55.59" font-size="2.9" font-weight="bold" font-family="DejaVu Sans, Liberation Sans, sans-serif" fill="#000" text-anchor="middle">ωo</text></g></g><g transform="translate(337.40 0.00) scale(1 1.0000)"><text x="-0.80" y="10.70" font-size="15.2" font-family="Liberation Serif, serif" fill="#000">[case 4’]</text><g font-family="DejaVu Sans, Liberation Sans, sans-serif" fill="#111" stroke="#111" stroke-width="0.16"><text x="59.20" y="15.50" font-size="9.16" style="white-space:pre">"Relative incident energy"  a = 1.5</text><text x="27.20" y="23.90" font-size="9.16">h = 25.0[m], ϕ = 0[°], e = 0.0[°], θ = 45.0, R = 0.1</text><rect x="71.00" y="28.50" width="142.80" height="43.90" fill="#fff" stroke="none"/><path d="M71.00 57.60 Q142.40 49.60 213.80 57.60" fill="none" stroke="#1f77b4" stroke-width="1.25"/><rect x="71.00" y="28.50" width="142.80" height="43.90" fill="none" stroke="#1a1a1a" stroke-width="0.75"/><text x="71.00" y="81.70" font-size="5.90" text-anchor="middle" >0</text><text x="98.85" y="81.70" font-size="5.90" text-anchor="middle" >200</text><text x="126.70" y="81.70" font-size="5.90" text-anchor="middle" >400</text><text x="154.55" y="81.70" font-size="5.90" text-anchor="middle" >600</text><text x="182.41" y="81.70" font-size="5.90" text-anchor="middle" >800</text><text x="210.26" y="81.70" font-size="5.90" text-anchor="middle" >1000</text><text x="64.70" y="75.30" font-size="5.90" text-anchor="end" >10<tspan dy="-2.36" font-size="4.37">−11</tspan></text><text x="64.70" y="51.56" font-size="5.90" text-anchor="end" >10<tspan dy="-2.36" font-size="4.37">−9</tspan></text><path d="M71.00 72.40 v2.9 M98.85 72.40 v2.9 M126.70 72.40 v2.9 M154.55 72.40 v2.9 M182.41 72.40 v2.9 M210.26 72.40 v2.9 M71.00 72.40 h-2.9 M71.00 48.66 h-2.9 " stroke="#000" stroke-width="0.85" fill="none"/><text transform="translate(43.4 51) rotate(-90)" font-size="7.45" text-anchor="middle">E/J []</text><g filter="url(#vir)" stroke="none"><g transform="translate(71 231.4) scale(0.139258 -0.139258)"><path d="M0 0H1024V1024H0Z" fill="url(#g12)"/><path d="M0 0H1024V1024H0Z" fill="url(#g13)"/><path d="M0 1024 L1024 1024 L1024 204 Q512 294 0 204 Z" fill="url(#g14)"/><path d="M0 1024 L1024 1024 L1024 204 Q512 294 0 204 Z" fill="url(#g15)"/><path d="M166 720 C166 400 300 305 512 305 C724 305 858 400 858 720 Z" fill="rgba(255,255,255,0.03)"/><path d="M240 700 C240 470 340 380 512 380 C684 380 784 470 784 700 Z" fill="rgba(255,255,255,0.025)"/><path d="M0 845 Q512 747 1024 845 L1024 500 L0 500 Z" fill="url(#g16)"/><path d="M0 1024 L1024 1024 L1024 825 Q512 727 0 825 Z" fill="url(#g17)"/><path d="M0 1024 L1024 1024 L1024 825 Q512 727 0 825 Z" fill="url(#g18)"/><path d="M0 1024 L1024 1024 L1024 980 Q512 842 0 980 Z" fill="url(#g19)"/><path d="M0 1024 L1024 1024 L1024 980 Q512 842 0 980 Z" fill="url(#g20)"/></g></g><rect x="71.00" y="88.90" width="142.60" height="142.50" fill="none" stroke="#333" stroke-width="0.7"/><text x="71.00" y="242.70" font-size="7.45" text-anchor="middle" >0</text><text x="65.00" y="234.15" font-size="7.45" text-anchor="end" >0</text><text x="98.85" y="242.70" font-size="7.45" text-anchor="middle" >200</text><text x="65.00" y="206.30" font-size="7.45" text-anchor="end" >200</text><text x="126.70" y="242.70" font-size="7.45" text-anchor="middle" >400</text><text x="65.00" y="178.45" font-size="7.45" text-anchor="end" >400</text><text x="154.55" y="242.70" font-size="7.45" text-anchor="middle" >600</text><text x="65.00" y="150.60" font-size="7.45" text-anchor="end" >600</text><text x="182.41" y="242.70" font-size="7.45" text-anchor="middle" >800</text><text x="65.00" y="122.74" font-size="7.45" text-anchor="end" >800</text><text x="210.26" y="242.70" font-size="7.45" text-anchor="middle" >1000</text><text x="65.00" y="94.89" font-size="7.45" text-anchor="end" >1000</text><path d="M71.00 231.40 v3.1 M71.00 231.40 h-3.1 M98.85 231.40 v3.1 M71.00 203.55 h-3.1 M126.70 231.40 v3.1 M71.00 175.70 h-3.1 M154.55 231.40 v3.1 M71.00 147.85 h-3.1 M182.41 231.40 v3.1 M71.00 119.99 h-3.1 M210.26 231.40 v3.1 M71.00 92.14 h-3.1 " stroke="#000" stroke-width="0.9" fill="none"/><rect x="241.20" y="88.90" width="43.60" height="142.70" fill="#fff" stroke="none"/><path d="M253.30 231.60 L253.53 219.65 Q253.75 207.70 253.18 202.47 L252.61 197.23 L238.92 197.01 L257.18 196.55 L257.75 186.20 Q258.32 175.84 259.12 162.18 L259.12 162.18 Q259.92 148.53 259.69 143.98 L259.69 143.98 Q259.46 139.43 257.75 134.30 L257.75 134.30 Q256.04 129.18 253.75 126.45 L251.47 123.72 L238.92 123.49 L245.31 123.27 L247.36 105.74 L238.92 105.51 L260.37 105.29 L259.00 88.90" fill="none" stroke="#1f77b4" stroke-width="1.15" stroke-linejoin="round" clip-path="url(#sclip)"/><path d="M241.20 88.90 V231.60 M284.80 88.90 V231.60" fill="none" stroke="#333" stroke-width="0.65"/><path d="M240.88 88.90 H285.12 M240.88 231.60 H285.12" fill="none" stroke="#333" stroke-width="0.65"/><text x="235.30" y="233.75" font-size="5.90" text-anchor="end" >0</text><text x="235.30" y="205.88" font-size="5.90" text-anchor="end" >200</text><text x="235.30" y="178.01" font-size="5.90" text-anchor="end" >400</text><text x="235.30" y="150.14" font-size="5.90" text-anchor="end" >600</text><text x="235.30" y="122.27" font-size="5.90" text-anchor="end" >800</text><text x="235.30" y="94.39" font-size="5.90" text-anchor="end" >1000</text><text x="240.90" y="242.50" font-size="5.90" text-anchor="middle" >10<tspan dy="-2.36" font-size="4.37">−11</tspan></text><text x="264.77" y="242.50" font-size="5.90" text-anchor="middle" >10<tspan dy="-2.36" font-size="4.37">−9</tspan></text><path d="M241.20 231.60 h-2.9 M241.20 203.73 h-2.9 M241.20 175.86 h-2.9 M241.20 147.99 h-2.9 M241.20 120.12 h-2.9 M241.20 92.24 h-2.9 M241.20 231.60 v2.9 M264.77 231.60 v2.9 " stroke="#000" stroke-width="0.85" fill="none"/><text x="241.3" y="253.2" font-size="7.45">E/J []</text><rect x="300.20" y="28.40" width="10.50" height="202.90" fill="url(#cbar)" stroke="#222" stroke-width="0.55"/><text x="316.30" y="235.90" font-size="7.45" text-anchor="start" >10<tspan dy="-2.98" font-size="5.51">−11</tspan></text><text x="316.30" y="181.05" font-size="7.45" text-anchor="start" >10<tspan dy="-2.98" font-size="5.51">−10</tspan></text><text x="316.30" y="126.19" font-size="7.45" text-anchor="start" >10<tspan dy="-2.98" font-size="5.51">−9</tspan></text><text x="316.30" y="71.34" font-size="7.45" text-anchor="start" >10<tspan dy="-2.98" font-size="5.51">−8</tspan></text><path d="M310.70 231.30 h2.7 M310.70 214.79 h1.5 M310.70 205.13 h1.5 M310.70 198.28 h1.5 M310.70 192.96 h1.5 M310.70 188.62 h1.5 M310.70 184.94 h1.5 M310.70 181.76 h1.5 M310.70 178.96 h1.5 M310.70 176.45 h2.7 M310.70 159.94 h1.5 M310.70 150.28 h1.5 M310.70 143.42 h1.5 M310.70 138.11 h1.5 M310.70 133.76 h1.5 M310.70 130.09 h1.5 M310.70 126.91 h1.5 M310.70 124.10 h1.5 M310.70 121.59 h2.7 M310.70 105.08 h1.5 M310.70 95.42 h1.5 M310.70 88.57 h1.5 M310.70 83.25 h1.5 M310.70 78.91 h1.5 M310.70 75.24 h1.5 M310.70 72.06 h1.5 M310.70 69.25 h1.5 M310.70 66.74 h2.7 M310.70 50.23 h1.5 M310.70 40.57 h1.5 M310.70 33.72 h1.5 M310.70 28.40 h1.5 " stroke="#222" stroke-width="0.55" fill="none"/><text transform="translate(346.2 130.4) rotate(-90)" font-size="7.45" text-anchor="middle">E/J []</text></g><g><rect x="229.78" y="33.16" width="60.76" height="36.41" fill="#4270c0"/><rect x="246.22" y="32.16" width="28.88" height="19.07" fill="#fff"/><rect x="237.69" y="49.74" width="44.95" height="16.70" fill="#fff"/><polygon points="260.91 57.90 287.66 35.05 287.66 72.34 276.61 72.34" fill="#87b964" fill-opacity="0.58"/><path d="M246.22 49.74 L237.69 49.74 L237.69 66.44 L282.63 66.44 L282.63 49.74 L275.10 49.74 L275.10 33.16" fill="none" stroke="#f0ec30" stroke-width="0.75"/><path d="M260.04 27.77 L260.04 72.34 M226.39 66.44 L292.93 66.44 M246.22 49.36 L271.33 49.36" stroke="#444" stroke-width="0.25" fill="none"/><path d="M293.93 66.44 l-1.2 -0.6 v1.2 z" fill="#111"/><text x="295.44" y="67.34" font-size="2.8" font-family="DejaVu Sans, Liberation Sans, sans-serif" fill="#222">x</text><path d="M254.01 28.77 L246.22 36.55 M259.28 28.77 L246.22 41.83 M264.68 28.77 L246.22 47.23 M271.59 28.77 L238.32 64.43 M278.11 28.77 L242.08 64.43 " stroke="#e23b30" stroke-width="0.46" fill="none"/><path d="M238.32 64.43 l1.3 -0.3 l-1 -1 z" fill="#e23b30"/><path d="M242.08 64.43 l1.3 -0.3 l-1 -1 z" fill="#e23b30"/><path d="M246.22 33.42 L246.22 49.24" stroke="#e81c24" stroke-width="0.8" fill="none"/><path d="M246.98 36.15 l-1.0 0 l0.9 -0.8 z" fill="#e81c24"/><path d="M246.98 41.45 l-1.0 0 l0.9 -0.8 z" fill="#e81c24"/><path d="M246.98 46.75 l-1.0 0 l0.9 -0.8 z" fill="#e81c24"/><path d="M237.69 66.44 L246.73 66.44" stroke="#e8402a" stroke-width="0.7" fill="none"/><path d="M237.69 66.44 L237.69 61.04" stroke="#e8402a" stroke-width="0.7" fill="none"/><rect x="255.72" y="55.99" width="3.6" height="2.7" rx="0.3" fill="#000"/><path d="M258.72 57.34 l2.20 -1.3 v2.6 z" fill="#000"/><text x="257.82" y="55.59" font-size="2.9" font-weight="bold" font-family="DejaVu Sans, Liberation Sans, sans-serif" fill="#000" text-anchor="middle">ωo</text></g></g><g transform="translate(0.00 258.40) scale(1 1.0015)"><text x="-0.80" y="9.80" font-size="15.2" font-family="Liberation Serif, serif" fill="#000">[case 3]</text><g font-family="DejaVu Sans, Liberation Sans, sans-serif" fill="#111" stroke="#111" stroke-width="0.16"><text x="59.50" y="14.90" font-size="9.16" style="white-space:pre">"Relative incident energy"  a = 2.0</text><text x="21.60" y="23.70" font-size="9.16">h = 25.0[m], ϕ = 180[°], e = 0.0[°], θ = 45.0, R = 0.1</text><rect x="71.00" y="28.50" width="142.80" height="43.90" fill="#fff" stroke="none"/><path d="M71.00 57.80 Q142.40 42.10 213.80 57.80" fill="none" stroke="#1f77b4" stroke-width="1.25"/><rect x="71.00" y="28.50" width="142.80" height="43.90" fill="none" stroke="#4a4a4a" stroke-width="0.85"/><text x="71.00" y="81.70" font-size="5.90" text-anchor="middle" >0</text><text x="98.85" y="81.70" font-size="5.90" text-anchor="middle" >200</text><text x="126.70" y="81.70" font-size="5.90" text-anchor="middle" >400</text><text x="154.55" y="81.70" font-size="5.90" text-anchor="middle" >600</text><text x="182.41" y="81.70" font-size="5.90" text-anchor="middle" >800</text><text x="210.26" y="81.70" font-size="5.90" text-anchor="middle" >1000</text><text x="64.70" y="75.30" font-size="5.90" text-anchor="end" >10<tspan dy="-2.36" font-size="4.37">−11</tspan></text><text x="64.70" y="51.56" font-size="5.90" text-anchor="end" >10<tspan dy="-2.36" font-size="4.37">−9</tspan></text><path d="M71.00 72.40 v2.9 M98.85 72.40 v2.9 M126.70 72.40 v2.9 M154.55 72.40 v2.9 M182.41 72.40 v2.9 M210.26 72.40 v2.9 M71.00 72.40 h-2.9 M71.00 48.66 h-2.9 " stroke="#000" stroke-width="0.85" fill="none"/><text transform="translate(43.4 51) rotate(-90)" font-size="7.45" text-anchor="middle">E/J []</text><g filter="url(#vir)" stroke="none"><g transform="translate(71 231.4) scale(0.139258 -0.139258)"><path d="M0 0H1024V1024H0Z" fill="url(#g21)"/><path d="M0 1024 L1024 1024 L1024 289 Q512 343 0 289 Z" fill="url(#g22)"/><path d="M0 1024 L1024 1024 L1024 289 Q512 343 0 289 Z" fill="url(#g23)"/><path d="M0 1024 L1024 1024 L1024 745 Q512 675 0 745 Z" fill="url(#g24)"/><path d="M0 1024 L1024 1024 L1024 745 Q512 675 0 745 Z" fill="url(#g25)"/><path d="M0 1024 L1024 1024 L1024 980 Q512 842 0 980 Z" fill="url(#g26)"/><path d="M0 1024 L1024 1024 L1024 980 Q512 842 0 980 Z" fill="url(#g8)"/><path d="M50.0 249.0 L51.8 249.6 L57.0 251.4 L65.7 254.4 L77.9 258.4 L93.3 263.2 L111.9 268.6 L133.6 274.5 L158.1 280.6 L185.3 286.7 L215.0 292.5 L247.0 297.8 L281.0 302.5 L316.8 306.5 L354.0 309.6 L392.4 311.8 L431.8 313.2 L471.7 313.9 L512.0 314.0 L552.3 313.9 L592.2 313.2 L631.6 311.8 L670.0 309.6 L707.2 306.5 L743.0 302.5 L777.0 297.8 L809.0 292.5 L838.7 286.7 L865.9 280.6 L890.4 274.5 L912.1 268.6 L930.7 263.2 L946.1 258.4 L958.3 254.4 L967.0 251.4 L972.2 249.6 L974.0 249.0 L972.2 237.4 L967.0 225.9 L958.3 214.6 L946.1 203.5 L930.7 192.8 L912.1 182.5 L890.4 172.7 L865.9 163.5 L838.7 155.0 L809.0 147.1 L777.0 140.1 L743.0 133.8 L707.2 128.5 L670.0 124.0 L631.6 120.5 L592.2 118.0 L552.3 116.5 L512.0 116.0 L471.7 116.5 L431.8 118.0 L392.4 120.5 L354.0 124.0 L316.8 128.5 L281.0 133.8 L247.0 140.1 L215.0 147.1 L185.3 155.0 L158.1 163.5 L133.6 172.7 L111.9 182.5 L93.3 192.8 L77.9 203.5 L65.7 214.6 L57.0 225.9 L51.8 237.4Z" fill="url(#g27)"/><path d="M50.0 249.0 L51.8 249.6 L57.0 251.4 L65.7 254.4 L77.9 258.4 L93.3 263.2 L111.9 268.6 L133.6 274.5 L158.1 280.6 L185.3 286.7 L215.0 292.5 L247.0 297.8 L281.0 302.5 L316.8 306.5 L354.0 309.6 L392.4 311.8 L431.8 313.2 L471.7 313.9 L512.0 314.0 L552.3 313.9 L592.2 313.2 L631.6 311.8 L670.0 309.6 L707.2 306.5 L743.0 302.5 L777.0 297.8 L809.0 292.5 L838.7 286.7 L865.9 280.6 L890.4 274.5 L912.1 268.6 L930.7 263.2 L946.1 258.4 L958.3 254.4 L967.0 251.4 L972.2 249.6 L974.0 249.0 L972.2 237.4 L967.0 225.9 L958.3 214.6 L946.1 203.5 L930.7 192.8 L912.1 182.5 L890.4 172.7 L865.9 163.5 L838.7 155.0 L809.0 147.1 L777.0 140.1 L743.0 133.8 L707.2 128.5 L670.0 124.0 L631.6 120.5 L592.2 118.0 L552.3 116.5 L512.0 116.0 L471.7 116.5 L431.8 118.0 L392.4 120.5 L354.0 124.0 L316.8 128.5 L281.0 133.8 L247.0 140.1 L215.0 147.1 L185.3 155.0 L158.1 163.5 L133.6 172.7 L111.9 182.5 L93.3 192.8 L77.9 203.5 L65.7 214.6 L57.0 225.9 L51.8 237.4Z" fill="url(#g28)"/></g></g><rect x="71.00" y="88.90" width="142.60" height="142.50" fill="none" stroke="#333" stroke-width="0.7"/><text x="71.00" y="242.70" font-size="7.45" text-anchor="middle" >0</text><text x="65.80" y="234.15" font-size="7.45" text-anchor="end" >0</text><text x="98.85" y="242.70" font-size="7.45" text-anchor="middle" >200</text><text x="65.80" y="206.30" font-size="7.45" text-anchor="end" >200</text><text x="126.70" y="242.70" font-size="7.45" text-anchor="middle" >400</text><text x="65.80" y="178.45" font-size="7.45" text-anchor="end" >400</text><text x="154.55" y="242.70" font-size="7.45" text-anchor="middle" >600</text><text x="65.80" y="150.60" font-size="7.45" text-anchor="end" >600</text><text x="182.41" y="242.70" font-size="7.45" text-anchor="middle" >800</text><text x="65.80" y="122.74" font-size="7.45" text-anchor="end" >800</text><text x="210.26" y="242.70" font-size="7.45" text-anchor="middle" >1000</text><text x="65.80" y="94.89" font-size="7.45" text-anchor="end" >1000</text><path d="M71.00 231.40 v3.1 M71.00 231.40 h-3.1 M98.85 231.40 v3.1 M71.00 203.55 h-3.1 M126.70 231.40 v3.1 M71.00 175.70 h-3.1 M154.55 231.40 v3.1 M71.00 147.85 h-3.1 M182.41 231.40 v3.1 M71.00 119.99 h-3.1 M210.26 231.40 v3.1 M71.00 92.14 h-3.1 " stroke="#000" stroke-width="0.9" fill="none"/><rect x="241.20" y="88.90" width="43.60" height="142.70" fill="#fff" stroke="none"/><path d="M252.61 231.60 L252.04 226.25 Q251.47 220.90 250.33 217.94 L249.19 214.99 L280.69 214.53 L282.29 187.45 L238.92 187.22 L266.77 186.99 L265.97 178.91 Q265.17 170.83 263.46 159.45 L263.46 159.45 Q261.74 148.07 259.69 140.56 L257.63 133.05 L238.92 132.83 L262.88 132.60 L263.23 128.96 Q263.57 125.31 263.00 119.62 L263.00 119.62 Q262.43 113.94 261.40 109.72 L260.37 105.51 L238.92 105.29 L280.92 105.06 L279.55 88.90" fill="none" stroke="#1f77b4" stroke-width="1.15" stroke-linejoin="round" clip-path="url(#sclip)"/><path d="M241.20 88.90 V231.60 M284.80 88.90 V231.60" fill="none" stroke="#8a8a8a" stroke-width="0.95"/><path d="M240.72 88.90 H285.28 M240.72 231.60 H285.28" fill="none" stroke="#444" stroke-width="0.65"/><text x="235.30" y="233.75" font-size="5.90" text-anchor="end" >0</text><text x="235.30" y="205.88" font-size="5.90" text-anchor="end" >200</text><text x="235.30" y="178.01" font-size="5.90" text-anchor="end" >400</text><text x="235.30" y="150.14" font-size="5.90" text-anchor="end" >600</text><text x="235.30" y="122.27" font-size="5.90" text-anchor="end" >800</text><text x="235.30" y="94.39" font-size="5.90" text-anchor="end" >1000</text><text x="240.90" y="242.50" font-size="5.90" text-anchor="middle" >10<tspan dy="-2.36" font-size="4.37">−11</tspan></text><text x="264.77" y="242.50" font-size="5.90" text-anchor="middle" >10<tspan dy="-2.36" font-size="4.37">−9</tspan></text><path d="M241.20 231.60 h-2.9 M241.20 203.73 h-2.9 M241.20 175.86 h-2.9 M241.20 147.99 h-2.9 M241.20 120.12 h-2.9 M241.20 92.24 h-2.9 M241.20 231.60 v2.9 M264.77 231.60 v2.9 " stroke="#000" stroke-width="0.85" fill="none"/><text x="241.3" y="253.2" font-size="7.45">E/J []</text><rect x="300.20" y="28.40" width="10.50" height="202.90" fill="url(#cbar)" stroke="#222" stroke-width="0.55"/><text x="316.30" y="235.90" font-size="7.45" text-anchor="start" >10<tspan dy="-2.98" font-size="5.51">−11</tspan></text><text x="316.30" y="181.05" font-size="7.45" text-anchor="start" >10<tspan dy="-2.98" font-size="5.51">−10</tspan></text><text x="316.30" y="126.19" font-size="7.45" text-anchor="start" >10<tspan dy="-2.98" font-size="5.51">−9</tspan></text><text x="316.30" y="71.34" font-size="7.45" text-anchor="start" >10<tspan dy="-2.98" font-size="5.51">−8</tspan></text><path d="M310.70 231.30 h2.7 M310.70 214.79 h1.5 M310.70 205.13 h1.5 M310.70 198.28 h1.5 M310.70 192.96 h1.5 M310.70 188.62 h1.5 M310.70 184.94 h1.5 M310.70 181.76 h1.5 M310.70 178.96 h1.5 M310.70 176.45 h2.7 M310.70 159.94 h1.5 M310.70 150.28 h1.5 M310.70 143.42 h1.5 M310.70 138.11 h1.5 M310.70 133.76 h1.5 M310.70 130.09 h1.5 M310.70 126.91 h1.5 M310.70 124.10 h1.5 M310.70 121.59 h2.7 M310.70 105.08 h1.5 M310.70 95.42 h1.5 M310.70 88.57 h1.5 M310.70 83.25 h1.5 M310.70 78.91 h1.5 M310.70 75.24 h1.5 M310.70 72.06 h1.5 M310.70 69.25 h1.5 M310.70 66.74 h2.7 M310.70 50.23 h1.5 M310.70 40.57 h1.5 M310.70 33.72 h1.5 M310.70 28.40 h1.5 " stroke="#222" stroke-width="0.55" fill="none"/><text transform="translate(346.2 130.4) rotate(-90)" font-size="7.45" text-anchor="middle">E/J []</text></g><g><rect x="226.04" y="36.41" width="63.65" height="37.66" fill="#4270c0"/><rect x="242.74" y="35.41" width="30.38" height="19.07" fill="#fff"/><rect x="228.18" y="52.99" width="58.76" height="17.95" fill="#fff"/><polygon points="227.05 36.92 258.69 61.78 236.09 80.23 227.05 80.23" fill="#96d872" fill-opacity="0.6"/><path d="M242.74 52.99 L228.18 52.99 L228.18 70.94 L286.93 70.94 L286.93 52.99 L273.12 52.99 L273.12 36.41" fill="none" stroke="#f0ec30" stroke-width="0.75"/><path d="M257.81 26.62 L257.81 80.23 M222.28 70.94 L291.96 70.94 M242.74 52.61 L267.85 52.61" stroke="#444" stroke-width="0.25" fill="none"/><path d="M292.96 70.94 l-1.2 -0.6 v1.2 z" fill="#111"/><text x="294.47" y="71.84" font-size="2.8" font-family="DejaVu Sans, Liberation Sans, sans-serif" fill="#222">x</text><path d="M256.18 27.25 L242.74 40.68 M261.20 27.25 L242.74 45.71 M266.22 27.25 L242.74 50.73 M273.12 27.25 L232.32 68.68 M280.66 27.25 L238.35 68.68 " stroke="#e23b30" stroke-width="0.46" fill="none"/><path d="M232.32 68.68 l1.3 -0.3 l-1 -1 z" fill="#e23b30"/><path d="M238.35 68.68 l1.3 -0.3 l-1 -1 z" fill="#e23b30"/><path d="M242.74 36.67 L242.74 52.48" stroke="#e81c24" stroke-width="0.8" fill="none"/><path d="M243.49 39.40 l-1.0 0 l0.9 -0.8 z" fill="#e81c24"/><path d="M243.49 44.70 l-1.0 0 l0.9 -0.8 z" fill="#e81c24"/><path d="M243.49 50.00 l-1.0 0 l0.9 -0.8 z" fill="#e81c24"/><path d="M229.81 70.94 L243.62 70.94" stroke="#c87830" stroke-width="0.7" fill="none"/><rect x="261.28" y="60.62" width="3.6" height="2.7" rx="0.3" fill="#000"/><path d="M261.88 61.97 l-2.20 -1.3 v2.6 z" fill="#000"/><text x="263.38" y="60.22" font-size="2.9" font-weight="bold" font-family="DejaVu Sans, Liberation Sans, sans-serif" fill="#000" text-anchor="middle">ωo</text></g></g><g transform="translate(337.40 258.40) scale(1 1.0015)"><text x="-1.00" y="9.70" font-size="15.2" font-family="Liberation Serif, serif" fill="#000">[case 4]</text><g font-family="DejaVu Sans, Liberation Sans, sans-serif" fill="#111" stroke="#111" stroke-width="0.16"><text x="59.00" y="15.00" font-size="9.16" style="white-space:pre">"Relative incident energy"  a = 2.0</text><text x="26.90" y="23.60" font-size="9.16">h = 25.0[m], ϕ = 0[°], e = 0.0[°], θ = 45.0, R = 0.1</text><rect x="71.00" y="28.50" width="142.80" height="43.90" fill="#fff" stroke="none"/><path d="M71.00 61.50 Q142.40 53.10 213.80 61.50" fill="none" stroke="#1f77b4" stroke-width="1.25"/><rect x="71.00" y="28.50" width="142.80" height="43.90" fill="none" stroke="#1a1a1a" stroke-width="0.75"/><text x="71.00" y="81.70" font-size="5.90" text-anchor="middle" >0</text><text x="98.85" y="81.70" font-size="5.90" text-anchor="middle" >200</text><text x="126.70" y="81.70" font-size="5.90" text-anchor="middle" >400</text><text x="154.55" y="81.70" font-size="5.90" text-anchor="middle" >600</text><text x="182.41" y="81.70" font-size="5.90" text-anchor="middle" >800</text><text x="210.26" y="81.70" font-size="5.90" text-anchor="middle" >1000</text><text x="64.70" y="75.30" font-size="5.90" text-anchor="end" >10<tspan dy="-2.36" font-size="4.37">−11</tspan></text><text x="64.70" y="51.56" font-size="5.90" text-anchor="end" >10<tspan dy="-2.36" font-size="4.37">−9</tspan></text><path d="M71.00 72.40 v2.9 M98.85 72.40 v2.9 M126.70 72.40 v2.9 M154.55 72.40 v2.9 M182.41 72.40 v2.9 M210.26 72.40 v2.9 M71.00 72.40 h-2.9 M71.00 48.66 h-2.9 " stroke="#000" stroke-width="0.85" fill="none"/><text transform="translate(43.4 51) rotate(-90)" font-size="7.45" text-anchor="middle">E/J []</text><g filter="url(#vir)" stroke="none"><g transform="translate(71 231.4) scale(0.139258 -0.139258)"><path d="M0 0H1024V1024H0Z" fill="url(#g29)"/><path d="M0 0H1024V1024H0Z" fill="url(#g30)"/><path d="M0 1024 L1024 1024 L1024 274 Q512 358 0 274 Z" fill="url(#g31)"/><path d="M0 1024 L1024 1024 L1024 274 Q512 358 0 274 Z" fill="url(#g2)"/><path d="M0 764 Q512 694 1024 764 L1024 400 L0 400 Z" fill="url(#g32)"/><path d="M0 1024 L1024 1024 L1024 744 Q512 674 0 744 Z" fill="url(#g33)"/><path d="M0 1024 L1024 1024 L1024 744 Q512 674 0 744 Z" fill="url(#g34)"/><path d="M0 1024 L1024 1024 L1024 980 Q512 842 0 980 Z" fill="url(#g35)"/><path d="M0 1024 L1024 1024 L1024 980 Q512 842 0 980 Z" fill="url(#g20)"/></g></g><rect x="71.00" y="88.90" width="142.60" height="142.50" fill="none" stroke="#333" stroke-width="0.7"/><text x="71.00" y="242.70" font-size="7.45" text-anchor="middle" >0</text><text x="65.00" y="234.15" font-size="7.45" text-anchor="end" >0</text><text x="98.85" y="242.70" font-size="7.45" text-anchor="middle" >200</text><text x="65.00" y="206.30" font-size="7.45" text-anchor="end" >200</text><text x="126.70" y="242.70" font-size="7.45" text-anchor="middle" >400</text><text x="65.00" y="178.45" font-size="7.45" text-anchor="end" >400</text><text x="154.55" y="242.70" font-size="7.45" text-anchor="middle" >600</text><text x="65.00" y="150.60" font-size="7.45" text-anchor="end" >600</text><text x="182.41" y="242.70" font-size="7.45" text-anchor="middle" >800</text><text x="65.00" y="122.74" font-size="7.45" text-anchor="end" >800</text><text x="210.26" y="242.70" font-size="7.45" text-anchor="middle" >1000</text><text x="65.00" y="94.89" font-size="7.45" text-anchor="end" >1000</text><path d="M71.00 231.40 v3.1 M71.00 231.40 h-3.1 M98.85 231.40 v3.1 M71.00 203.55 h-3.1 M126.70 231.40 v3.1 M71.00 175.70 h-3.1 M154.55 231.40 v3.1 M71.00 147.85 h-3.1 M182.41 231.40 v3.1 M71.00 119.99 h-3.1 M210.26 231.40 v3.1 M71.00 92.14 h-3.1 " stroke="#000" stroke-width="0.9" fill="none"/><rect x="241.20" y="88.90" width="43.60" height="142.70" fill="#fff" stroke="none"/><path d="M253.07 231.60 L253.30 219.42 Q253.53 207.25 253.07 201.56 L253.07 201.56 Q252.61 195.87 251.81 191.77 L251.02 187.67 L238.92 187.45 L254.21 187.22 L255.12 179.03 Q256.04 170.83 256.38 165.14 L256.38 165.14 Q256.72 159.45 255.81 153.76 L255.81 153.76 Q254.90 148.07 252.61 142.38 L252.61 142.38 Q250.33 136.69 248.28 134.87 L246.22 133.05 L238.92 132.83 L238.92 128.50 L241.20 126.45 L242.11 120.19 Q243.03 113.94 243.60 109.72 L244.17 105.51 L238.92 105.29 L259.69 105.06 L258.55 88.90" fill="none" stroke="#1f77b4" stroke-width="1.15" stroke-linejoin="round" clip-path="url(#sclip)"/><path d="M241.20 88.90 V231.60 M284.80 88.90 V231.60" fill="none" stroke="#333" stroke-width="0.65"/><path d="M240.88 88.90 H285.12 M240.88 231.60 H285.12" fill="none" stroke="#333" stroke-width="0.65"/><text x="235.30" y="233.75" font-size="5.90" text-anchor="end" >0</text><text x="235.30" y="205.88" font-size="5.90" text-anchor="end" >200</text><text x="235.30" y="178.01" font-size="5.90" text-anchor="end" >400</text><text x="235.30" y="150.14" font-size="5.90" text-anchor="end" >600</text><text x="235.30" y="122.27" font-size="5.90" text-anchor="end" >800</text><text x="235.30" y="94.39" font-size="5.90" text-anchor="end" >1000</text><text x="240.90" y="242.50" font-size="5.90" text-anchor="middle" >10<tspan dy="-2.36" font-size="4.37">−11</tspan></text><text x="264.77" y="242.50" font-size="5.90" text-anchor="middle" >10<tspan dy="-2.36" font-size="4.37">−9</tspan></text><path d="M241.20 231.60 h-2.9 M241.20 203.73 h-2.9 M241.20 175.86 h-2.9 M241.20 147.99 h-2.9 M241.20 120.12 h-2.9 M241.20 92.24 h-2.9 M241.20 231.60 v2.9 M264.77 231.60 v2.9 " stroke="#000" stroke-width="0.85" fill="none"/><text x="241.3" y="253.2" font-size="7.45">E/J []</text><rect x="300.20" y="28.40" width="10.50" height="202.90" fill="url(#cbar)" stroke="#222" stroke-width="0.55"/><text x="316.30" y="235.90" font-size="7.45" text-anchor="start" >10<tspan dy="-2.98" font-size="5.51">−11</tspan></text><text x="316.30" y="181.05" font-size="7.45" text-anchor="start" >10<tspan dy="-2.98" font-size="5.51">−10</tspan></text><text x="316.30" y="126.19" font-size="7.45" text-anchor="start" >10<tspan dy="-2.98" font-size="5.51">−9</tspan></text><text x="316.30" y="71.34" font-size="7.45" text-anchor="start" >10<tspan dy="-2.98" font-size="5.51">−8</tspan></text><path d="M310.70 231.30 h2.7 M310.70 214.79 h1.5 M310.70 205.13 h1.5 M310.70 198.28 h1.5 M310.70 192.96 h1.5 M310.70 188.62 h1.5 M310.70 184.94 h1.5 M310.70 181.76 h1.5 M310.70 178.96 h1.5 M310.70 176.45 h2.7 M310.70 159.94 h1.5 M310.70 150.28 h1.5 M310.70 143.42 h1.5 M310.70 138.11 h1.5 M310.70 133.76 h1.5 M310.70 130.09 h1.5 M310.70 126.91 h1.5 M310.70 124.10 h1.5 M310.70 121.59 h2.7 M310.70 105.08 h1.5 M310.70 95.42 h1.5 M310.70 88.57 h1.5 M310.70 83.25 h1.5 M310.70 78.91 h1.5 M310.70 75.24 h1.5 M310.70 72.06 h1.5 M310.70 69.25 h1.5 M310.70 66.74 h2.7 M310.70 50.23 h1.5 M310.70 40.57 h1.5 M310.70 33.72 h1.5 M310.70 28.40 h1.5 " stroke="#222" stroke-width="0.55" fill="none"/><text transform="translate(346.2 130.4) rotate(-90)" font-size="7.45" text-anchor="middle">E/J []</text></g><g><rect x="226.65" y="35.66" width="63.90" height="37.66" fill="#4270c0"/><rect x="243.47" y="34.66" width="30.13" height="19.20" fill="#fff"/><rect x="228.78" y="52.36" width="59.01" height="17.58" fill="#fff"/><polygon points="258.91 61.78 290.55 36.41 290.55 77.34 276.74 77.34" fill="#96d872" fill-opacity="0.6"/><path d="M243.47 52.36 L228.78 52.36 L228.78 69.94 L287.79 69.94 L287.79 52.36 L273.60 52.36 L273.60 35.66" fill="none" stroke="#f0ec30" stroke-width="0.75"/><path d="M258.29 26.62 L258.29 77.09 M223.13 69.94 L292.81 69.94 M243.47 51.98 L268.58 51.98" stroke="#444" stroke-width="0.25" fill="none"/><path d="M293.82 69.94 l-1.2 -0.6 v1.2 z" fill="#111"/><text x="295.32" y="70.84" font-size="2.8" font-family="DejaVu Sans, Liberation Sans, sans-serif" fill="#222">x</text><path d="M255.78 27.25 L243.47 39.55 M260.42 27.25 L243.47 44.20 M265.82 27.25 L243.47 49.60 M272.72 27.25 L233.18 68.05 M280.26 27.25 L238.83 68.05 " stroke="#e23b30" stroke-width="0.46" fill="none"/><path d="M233.18 68.05 l1.3 -0.3 l-1 -1 z" fill="#e23b30"/><path d="M238.83 68.05 l1.3 -0.3 l-1 -1 z" fill="#e23b30"/><path d="M243.47 35.91 L243.47 51.86" stroke="#e81c24" stroke-width="0.8" fill="none"/><path d="M244.22 38.67 l-1.0 0 l0.9 -0.8 z" fill="#e81c24"/><path d="M244.22 44.01 l-1.0 0 l0.9 -0.8 z" fill="#e81c24"/><path d="M244.22 49.35 l-1.0 0 l0.9 -0.8 z" fill="#e81c24"/><path d="M230.04 69.94 L244.48 69.94" stroke="#e8402a" stroke-width="0.7" fill="none"/><rect x="253.72" y="60.62" width="3.6" height="2.7" rx="0.3" fill="#000"/><path d="M256.72 61.97 l2.20 -1.3 v2.6 z" fill="#000"/><text x="255.82" y="60.22" font-size="2.9" font-weight="bold" font-family="DejaVu Sans, Liberation Sans, sans-serif" fill="#000" text-anchor="middle">ωo</text></g></g><g transform="translate(0.00 516.50) scale(1 1.0037)"><text x="4.80" y="11.90" font-size="15.2" font-family="Liberation Serif, serif" fill="#000">[case 3”]</text><g font-family="DejaVu Sans, Liberation Sans, sans-serif" fill="#111" stroke="#111" stroke-width="0.16"><text x="59.90" y="14.50" font-size="9.16" style="white-space:pre">"Relative incident energy"  a = 2.5</text><text x="21.75" y="23.60" font-size="9.16">h = 25.0[m], ϕ = 180[°], e = 0.0[°], θ = 45.0, R = 0.1</text><rect x="71.00" y="28.50" width="142.80" height="43.90" fill="#fff" stroke="none"/><path d="M71.00 60.95 Q142.40 45.25 213.80 60.95" fill="none" stroke="#1f77b4" stroke-width="1.25"/><rect x="71.00" y="28.50" width="142.80" height="43.90" fill="none" stroke="#858585" stroke-width="1.0"/><text x="71.00" y="81.70" font-size="5.90" text-anchor="middle" >0</text><text x="98.85" y="81.70" font-size="5.90" text-anchor="middle" >200</text><text x="126.70" y="81.70" font-size="5.90" text-anchor="middle" >400</text><text x="154.55" y="81.70" font-size="5.90" text-anchor="middle" >600</text><text x="182.41" y="81.70" font-size="5.90" text-anchor="middle" >800</text><text x="210.26" y="81.70" font-size="5.90" text-anchor="middle" >1000</text><text x="64.70" y="75.30" font-size="5.90" text-anchor="end" >10<tspan dy="-2.36" font-size="4.37">−11</tspan></text><text x="64.70" y="51.56" font-size="5.90" text-anchor="end" >10<tspan dy="-2.36" font-size="4.37">−9</tspan></text><path d="M71.00 72.40 v2.9 M98.85 72.40 v2.9 M126.70 72.40 v2.9 M154.55 72.40 v2.9 M182.41 72.40 v2.9 M210.26 72.40 v2.9 M71.00 72.40 h-2.9 M71.00 48.66 h-2.9 " stroke="#000" stroke-width="0.85" fill="none"/><text transform="translate(43.4 51) rotate(-90)" font-size="7.45" text-anchor="middle">E/J []</text><g filter="url(#vir)" stroke="none"><g transform="translate(71 231.4) scale(0.139258 -0.139258)"><path d="M0 0H1024V1024H0Z" fill="url(#g36)"/><path d="M0 1024 L1024 1024 L1024 320 L0 320 Z" fill="url(#g37)"/><path d="M0 1024 L1024 1024 L1024 320 L0 320 Z" fill="url(#g38)"/><path d="M0 1024 L1024 1024 L1024 703 Q512 645 0 703 Z" fill="url(#g39)"/><path d="M0 1024 L1024 1024 L1024 703 Q512 645 0 703 Z" fill="url(#g25)"/><path d="M0 980 Q512 842 1024 980 L1024 703 Q512 645 0 703 Z" fill="url(#g40)"/><path d="M0 1024 L1024 1024 L1024 980 Q512 842 0 980 Z" fill="url(#g41)"/><path d="M0 1024 L1024 1024 L1024 980 Q512 842 0 980 Z" fill="url(#g8)"/><path d="M50.0 249.0 L51.8 249.6 L57.0 251.4 L65.7 254.4 L77.9 258.4 L93.3 263.2 L111.9 268.6 L133.6 274.5 L158.1 280.6 L185.3 286.7 L215.0 292.5 L247.0 297.8 L281.0 302.5 L316.8 306.5 L354.0 309.6 L392.4 311.8 L431.8 313.2 L471.7 313.9 L512.0 314.0 L552.3 313.9 L592.2 313.2 L631.6 311.8 L670.0 309.6 L707.2 306.5 L743.0 302.5 L777.0 297.8 L809.0 292.5 L838.7 286.7 L865.9 280.6 L890.4 274.5 L912.1 268.6 L930.7 263.2 L946.1 258.4 L958.3 254.4 L967.0 251.4 L972.2 249.6 L974.0 249.0 L972.2 237.4 L967.0 225.9 L958.3 214.6 L946.1 203.5 L930.7 192.8 L912.1 182.5 L890.4 172.7 L865.9 163.5 L838.7 155.0 L809.0 147.1 L777.0 140.1 L743.0 133.8 L707.2 128.5 L670.0 124.0 L631.6 120.5 L592.2 118.0 L552.3 116.5 L512.0 116.0 L471.7 116.5 L431.8 118.0 L392.4 120.5 L354.0 124.0 L316.8 128.5 L281.0 133.8 L247.0 140.1 L215.0 147.1 L185.3 155.0 L158.1 163.5 L133.6 172.7 L111.9 182.5 L93.3 192.8 L77.9 203.5 L65.7 214.6 L57.0 225.9 L51.8 237.4Z" fill="url(#g42)"/><path d="M50.0 249.0 L51.8 249.6 L57.0 251.4 L65.7 254.4 L77.9 258.4 L93.3 263.2 L111.9 268.6 L133.6 274.5 L158.1 280.6 L185.3 286.7 L215.0 292.5 L247.0 297.8 L281.0 302.5 L316.8 306.5 L354.0 309.6 L392.4 311.8 L431.8 313.2 L471.7 313.9 L512.0 314.0 L552.3 313.9 L592.2 313.2 L631.6 311.8 L670.0 309.6 L707.2 306.5 L743.0 302.5 L777.0 297.8 L809.0 292.5 L838.7 286.7 L865.9 280.6 L890.4 274.5 L912.1 268.6 L930.7 263.2 L946.1 258.4 L958.3 254.4 L967.0 251.4 L972.2 249.6 L974.0 249.0 L972.2 237.4 L967.0 225.9 L958.3 214.6 L946.1 203.5 L930.7 192.8 L912.1 182.5 L890.4 172.7 L865.9 163.5 L838.7 155.0 L809.0 147.1 L777.0 140.1 L743.0 133.8 L707.2 128.5 L670.0 124.0 L631.6 120.5 L592.2 118.0 L552.3 116.5 L512.0 116.0 L471.7 116.5 L431.8 118.0 L392.4 120.5 L354.0 124.0 L316.8 128.5 L281.0 133.8 L247.0 140.1 L215.0 147.1 L185.3 155.0 L158.1 163.5 L133.6 172.7 L111.9 182.5 L93.3 192.8 L77.9 203.5 L65.7 214.6 L57.0 225.9 L51.8 237.4Z" fill="url(#g28)"/></g></g><rect x="71.00" y="88.90" width="142.60" height="142.50" fill="none" stroke="#333" stroke-width="0.7"/><text x="71.00" y="242.70" font-size="7.45" text-anchor="middle" >0</text><text x="65.80" y="234.15" font-size="7.45" text-anchor="end" >0</text><text x="98.85" y="242.70" font-size="7.45" text-anchor="middle" >200</text><text x="65.80" y="206.30" font-size="7.45" text-anchor="end" >200</text><text x="126.70" y="242.70" font-size="7.45" text-anchor="middle" >400</text><text x="65.80" y="178.45" font-size="7.45" text-anchor="end" >400</text><text x="154.55" y="242.70" font-size="7.45" text-anchor="middle" >600</text><text x="65.80" y="150.60" font-size="7.45" text-anchor="end" >600</text><text x="182.41" y="242.70" font-size="7.45" text-anchor="middle" >800</text><text x="65.80" y="122.74" font-size="7.45" text-anchor="end" >800</text><text x="210.26" y="242.70" font-size="7.45" text-anchor="middle" >1000</text><text x="65.80" y="94.89" font-size="7.45" text-anchor="end" >1000</text><path d="M71.00 231.40 v3.1 M71.00 231.40 h-3.1 M98.85 231.40 v3.1 M71.00 203.55 h-3.1 M126.70 231.40 v3.1 M71.00 175.70 h-3.1 M154.55 231.40 v3.1 M71.00 147.85 h-3.1 M182.41 231.40 v3.1 M71.00 119.99 h-3.1 M210.26 231.40 v3.1 M71.00 92.14 h-3.1 " stroke="#000" stroke-width="0.9" fill="none"/><rect x="241.20" y="88.90" width="43.60" height="142.70" fill="#fff" stroke="none"/><path d="M252.61 231.60 L252.04 226.13 Q251.47 220.66 250.33 217.81 L249.19 214.96 L280.69 214.50 L282.52 187.83 L238.92 187.60 L238.92 182.82 L240.06 182.36 Q241.20 181.91 245.77 180.54 L245.77 180.54 Q250.33 179.17 253.18 176.55 L253.18 176.55 Q256.04 173.93 257.41 169.94 L257.41 169.94 Q258.78 165.95 259.35 160.25 L259.35 160.25 Q259.92 154.55 259.46 148.85 L259.46 148.85 Q259.00 143.15 258.43 140.76 L257.86 138.37 L238.92 138.14 L261.74 137.91 L262.31 135.97 Q262.88 134.04 263.23 129.48 L263.23 129.48 Q263.57 124.92 263.00 119.22 L263.00 119.22 Q262.43 113.52 261.40 109.53 L260.37 105.54 L238.92 105.31 L280.92 105.08 L279.55 88.90" fill="none" stroke="#1f77b4" stroke-width="1.15" stroke-linejoin="round" clip-path="url(#sclip)"/><path d="M241.20 88.90 V231.60 M284.80 88.90 V231.60" fill="none" stroke="#8a8a8a" stroke-width="0.95"/><path d="M240.72 88.90 H285.28 M240.72 231.60 H285.28" fill="none" stroke="#444" stroke-width="0.65"/><text x="235.30" y="233.75" font-size="5.90" text-anchor="end" >0</text><text x="235.30" y="205.88" font-size="5.90" text-anchor="end" >200</text><text x="235.30" y="178.01" font-size="5.90" text-anchor="end" >400</text><text x="235.30" y="150.14" font-size="5.90" text-anchor="end" >600</text><text x="235.30" y="122.27" font-size="5.90" text-anchor="end" >800</text><text x="235.30" y="94.39" font-size="5.90" text-anchor="end" >1000</text><text x="240.90" y="242.50" font-size="5.90" text-anchor="middle" >10<tspan dy="-2.36" font-size="4.37">−11</tspan></text><text x="264.77" y="242.50" font-size="5.90" text-anchor="middle" >10<tspan dy="-2.36" font-size="4.37">−9</tspan></text><path d="M241.20 231.60 h-2.9 M241.20 203.73 h-2.9 M241.20 175.86 h-2.9 M241.20 147.99 h-2.9 M241.20 120.12 h-2.9 M241.20 92.24 h-2.9 M241.20 231.60 v2.9 M264.77 231.60 v2.9 " stroke="#000" stroke-width="0.85" fill="none"/><text x="241.3" y="253.2" font-size="7.45">E/J []</text><rect x="300.20" y="28.40" width="10.50" height="202.90" fill="url(#cbar)" stroke="#222" stroke-width="0.55"/><text x="316.30" y="235.90" font-size="7.45" text-anchor="start" >10<tspan dy="-2.98" font-size="5.51">−11</tspan></text><text x="316.30" y="181.05" font-size="7.45" text-anchor="start" >10<tspan dy="-2.98" font-size="5.51">−10</tspan></text><text x="316.30" y="126.19" font-size="7.45" text-anchor="start" >10<tspan dy="-2.98" font-size="5.51">−9</tspan></text><text x="316.30" y="71.34" font-size="7.45" text-anchor="start" >10<tspan dy="-2.98" font-size="5.51">−8</tspan></text><path d="M310.70 231.30 h2.7 M310.70 214.79 h1.5 M310.70 205.13 h1.5 M310.70 198.28 h1.5 M310.70 192.96 h1.5 M310.70 188.62 h1.5 M310.70 184.94 h1.5 M310.70 181.76 h1.5 M310.70 178.96 h1.5 M310.70 176.45 h2.7 M310.70 159.94 h1.5 M310.70 150.28 h1.5 M310.70 143.42 h1.5 M310.70 138.11 h1.5 M310.70 133.76 h1.5 M310.70 130.09 h1.5 M310.70 126.91 h1.5 M310.70 124.10 h1.5 M310.70 121.59 h2.7 M310.70 105.08 h1.5 M310.70 95.42 h1.5 M310.70 88.57 h1.5 M310.70 83.25 h1.5 M310.70 78.91 h1.5 M310.70 75.24 h1.5 M310.70 72.06 h1.5 M310.70 69.25 h1.5 M310.70 66.74 h2.7 M310.70 50.23 h1.5 M310.70 40.57 h1.5 M310.70 33.72 h1.5 M310.70 28.40 h1.5 " stroke="#222" stroke-width="0.55" fill="none"/><text transform="translate(346.2 130.4) rotate(-90)" font-size="7.45" text-anchor="middle">E/J []</text></g><g><rect x="217.14" y="31.54" width="81.23" height="36.66" fill="#4270c0"/><rect x="243.50" y="30.54" width="29.75" height="18.82" fill="#fff"/><rect x="223.79" y="47.86" width="68.67" height="17.20" fill="#fff"/><polygon points="217.14 27.53 225.93 27.53 258.57 56.65 242.88 71.09 217.14 71.09" fill="#87b964" fill-opacity="0.58"/><path d="M243.50 47.86 L223.79 47.86 L223.79 65.06 L292.47 65.06 L292.47 47.86 L273.26 47.86 L273.26 31.54" fill="none" stroke="#f0ec30" stroke-width="0.75"/><path d="M258.19 27.15 L258.19 71.09 M219.02 65.32 L292.47 65.32 M243.50 47.49 L268.61 47.49" stroke="#444" stroke-width="0.25" fill="none"/><path d="M293.47 65.32 l-1.2 -0.6 v1.2 z" fill="#111"/><text x="294.98" y="66.22" font-size="2.8" font-family="DejaVu Sans, Liberation Sans, sans-serif" fill="#222">x</text><path d="M251.04 27.15 L243.50 34.68 M256.69 27.15 L243.50 40.33 M261.71 27.15 L243.50 45.35 M268.61 27.15 L232.83 62.93 M275.52 27.15 L238.48 62.93 " stroke="#e23b30" stroke-width="0.46" fill="none"/><path d="M232.83 62.93 l1.3 -0.3 l-1 -1 z" fill="#e23b30"/><path d="M238.48 62.93 l1.3 -0.3 l-1 -1 z" fill="#e23b30"/><path d="M243.50 31.79 L243.50 47.36" stroke="#e81c24" stroke-width="0.8" fill="none"/><path d="M244.26 34.48 l-1.0 0 l0.9 -0.8 z" fill="#e81c24"/><path d="M244.26 39.70 l-1.0 0 l0.9 -0.8 z" fill="#e81c24"/><path d="M244.26 44.93 l-1.0 0 l0.9 -0.8 z" fill="#e81c24"/><path d="M230.95 65.06 L243.50 65.06" stroke="#c88a40" stroke-width="0.7" fill="none"/><rect x="261.16" y="55.50" width="3.6" height="2.7" rx="0.3" fill="#000"/><path d="M261.76 56.85 l-2.20 -1.3 v2.6 z" fill="#000"/><text x="263.26" y="55.10" font-size="2.9" font-weight="bold" font-family="DejaVu Sans, Liberation Sans, sans-serif" fill="#000" text-anchor="middle">ωo</text></g></g><g transform="translate(337.40 516.50) scale(1 1.0037)"><text x="4.65" y="11.90" font-size="15.2" font-family="Liberation Serif, serif" fill="#000">[case 4”]</text><g font-family="DejaVu Sans, Liberation Sans, sans-serif" fill="#111" stroke="#111" stroke-width="0.16"><text x="59.00" y="14.90" font-size="9.16" style="white-space:pre">"Relative incident energy"  a = 2.5</text><text x="26.90" y="24.00" font-size="9.16">h = 25.0[m], ϕ = 0[°], e = 0.0[°], θ = 45.0, R = 0.1</text><rect x="71.00" y="28.50" width="142.80" height="43.90" fill="#fff" stroke="none"/><path d="M71.00 64.90 Q142.40 55.90 213.80 64.90" fill="none" stroke="#1f77b4" stroke-width="1.25"/><rect x="71.00" y="28.50" width="142.80" height="43.90" fill="none" stroke="#1a1a1a" stroke-width="0.75"/><text x="71.00" y="81.70" font-size="5.90" text-anchor="middle" >0</text><text x="98.85" y="81.70" font-size="5.90" text-anchor="middle" >200</text><text x="126.70" y="81.70" font-size="5.90" text-anchor="middle" >400</text><text x="154.55" y="81.70" font-size="5.90" text-anchor="middle" >600</text><text x="182.41" y="81.70" font-size="5.90" text-anchor="middle" >800</text><text x="210.26" y="81.70" font-size="5.90" text-anchor="middle" >1000</text><text x="64.70" y="75.30" font-size="5.90" text-anchor="end" >10<tspan dy="-2.36" font-size="4.37">−11</tspan></text><text x="64.70" y="51.56" font-size="5.90" text-anchor="end" >10<tspan dy="-2.36" font-size="4.37">−9</tspan></text><path d="M71.00 72.40 v2.9 M98.85 72.40 v2.9 M126.70 72.40 v2.9 M154.55 72.40 v2.9 M182.41 72.40 v2.9 M210.26 72.40 v2.9 M71.00 72.40 h-2.9 M71.00 48.66 h-2.9 " stroke="#000" stroke-width="0.85" fill="none"/><text transform="translate(43.4 51) rotate(-90)" font-size="7.45" text-anchor="middle">E/J []</text><g filter="url(#vir)" stroke="none"><g transform="translate(71 231.4) scale(0.139258 -0.139258)"><path d="M0 0H1024V1024H0Z" fill="url(#g43)"/><path d="M0 0H1024V1024H0Z" fill="url(#g44)"/><path d="M0 1024 L1024 1024 L1024 326 Q512 386 0 326 Z" fill="url(#g45)"/><path d="M0 1024 L1024 1024 L1024 326 Q512 386 0 326 Z" fill="url(#g46)"/><path d="M0 717 Q512 673 1024 717 L1024 400 L0 400 Z" fill="url(#g47)"/><path d="M0 1024 L1024 1024 L1024 697 Q512 653 0 697 Z" fill="url(#g48)"/><path d="M0 1024 L1024 1024 L1024 697 Q512 653 0 697 Z" fill="url(#g34)"/><path d="M0 1024 L1024 1024 L1024 980 Q512 842 0 980 Z" fill="url(#g49)"/><path d="M0 1024 L1024 1024 L1024 980 Q512 842 0 980 Z" fill="url(#g20)"/></g></g><rect x="71.00" y="88.90" width="142.60" height="142.50" fill="none" stroke="#333" stroke-width="0.7"/><text x="71.00" y="242.70" font-size="7.45" text-anchor="middle" >0</text><text x="65.00" y="234.15" font-size="7.45" text-anchor="end" >0</text><text x="98.85" y="242.70" font-size="7.45" text-anchor="middle" >200</text><text x="65.00" y="206.30" font-size="7.45" text-anchor="end" >200</text><text x="126.70" y="242.70" font-size="7.45" text-anchor="middle" >400</text><text x="65.00" y="178.45" font-size="7.45" text-anchor="end" >400</text><text x="154.55" y="242.70" font-size="7.45" text-anchor="middle" >600</text><text x="65.00" y="150.60" font-size="7.45" text-anchor="end" >600</text><text x="182.41" y="242.70" font-size="7.45" text-anchor="middle" >800</text><text x="65.00" y="122.74" font-size="7.45" text-anchor="end" >800</text><text x="210.26" y="242.70" font-size="7.45" text-anchor="middle" >1000</text><text x="65.00" y="94.89" font-size="7.45" text-anchor="end" >1000</text><path d="M71.00 231.40 v3.1 M71.00 231.40 h-3.1 M98.85 231.40 v3.1 M71.00 203.55 h-3.1 M126.70 231.40 v3.1 M71.00 175.70 h-3.1 M154.55 231.40 v3.1 M71.00 147.85 h-3.1 M182.41 231.40 v3.1 M71.00 119.99 h-3.1 M210.26 231.40 v3.1 M71.00 92.14 h-3.1 " stroke="#000" stroke-width="0.9" fill="none"/><rect x="241.20" y="88.90" width="43.60" height="142.70" fill="#fff" stroke="none"/><path d="M253.07 231.60 L253.30 219.29 Q253.53 206.98 252.84 199.00 L252.84 199.00 Q252.16 191.02 250.90 186.81 L249.65 182.59 L238.92 182.36 L253.53 182.13 L253.98 176.32 Q254.44 170.51 253.53 163.67 L253.53 163.67 Q252.61 156.83 250.90 151.13 L250.90 151.13 Q249.19 145.43 246.91 142.24 L244.62 139.05 L242.91 138.59 Q241.20 138.14 240.06 138.02 L238.92 137.91 L238.92 128.11 L241.20 126.06 L242.11 119.79 Q243.03 113.52 243.60 109.53 L244.17 105.54 L238.92 105.31 L259.69 105.08 L258.55 88.90" fill="none" stroke="#1f77b4" stroke-width="1.15" stroke-linejoin="round" clip-path="url(#sclip)"/><path d="M241.20 88.90 V231.60 M284.80 88.90 V231.60" fill="none" stroke="#333" stroke-width="0.65"/><path d="M240.88 88.90 H285.12 M240.88 231.60 H285.12" fill="none" stroke="#333" stroke-width="0.65"/><text x="235.30" y="233.75" font-size="5.90" text-anchor="end" >0</text><text x="235.30" y="205.88" font-size="5.90" text-anchor="end" >200</text><text x="235.30" y="178.01" font-size="5.90" text-anchor="end" >400</text><text x="235.30" y="150.14" font-size="5.90" text-anchor="end" >600</text><text x="235.30" y="122.27" font-size="5.90" text-anchor="end" >800</text><text x="235.30" y="94.39" font-size="5.90" text-anchor="end" >1000</text><text x="240.90" y="242.50" font-size="5.90" text-anchor="middle" >10<tspan dy="-2.36" font-size="4.37">−11</tspan></text><text x="264.77" y="242.50" font-size="5.90" text-anchor="middle" >10<tspan dy="-2.36" font-size="4.37">−9</tspan></text><path d="M241.20 231.60 h-2.9 M241.20 203.73 h-2.9 M241.20 175.86 h-2.9 M241.20 147.99 h-2.9 M241.20 120.12 h-2.9 M241.20 92.24 h-2.9 M241.20 231.60 v2.9 M264.77 231.60 v2.9 " stroke="#000" stroke-width="0.85" fill="none"/><text x="241.3" y="253.2" font-size="7.45">E/J []</text><rect x="300.20" y="28.40" width="10.50" height="202.90" fill="url(#cbar)" stroke="#222" stroke-width="0.55"/><text x="316.30" y="235.90" font-size="7.45" text-anchor="start" >10<tspan dy="-2.98" font-size="5.51">−11</tspan></text><text x="316.30" y="181.05" font-size="7.45" text-anchor="start" >10<tspan dy="-2.98" font-size="5.51">−10</tspan></text><text x="316.30" y="126.19" font-size="7.45" text-anchor="start" >10<tspan dy="-2.98" font-size="5.51">−9</tspan></text><text x="316.30" y="71.34" font-size="7.45" text-anchor="start" >10<tspan dy="-2.98" font-size="5.51">−8</tspan></text><path d="M310.70 231.30 h2.7 M310.70 214.79 h1.5 M310.70 205.13 h1.5 M310.70 198.28 h1.5 M310.70 192.96 h1.5 M310.70 188.62 h1.5 M310.70 184.94 h1.5 M310.70 181.76 h1.5 M310.70 178.96 h1.5 M310.70 176.45 h2.7 M310.70 159.94 h1.5 M310.70 150.28 h1.5 M310.70 143.42 h1.5 M310.70 138.11 h1.5 M310.70 133.76 h1.5 M310.70 130.09 h1.5 M310.70 126.91 h1.5 M310.70 124.10 h1.5 M310.70 121.59 h2.7 M310.70 105.08 h1.5 M310.70 95.42 h1.5 M310.70 88.57 h1.5 M310.70 83.25 h1.5 M310.70 78.91 h1.5 M310.70 75.24 h1.5 M310.70 72.06 h1.5 M310.70 69.25 h1.5 M310.70 66.74 h2.7 M310.70 50.23 h1.5 M310.70 40.57 h1.5 M310.70 33.72 h1.5 M310.70 28.40 h1.5 " stroke="#222" stroke-width="0.55" fill="none"/><text transform="translate(346.2 130.4) rotate(-90)" font-size="7.45" text-anchor="middle">E/J []</text></g><g><rect x="216.74" y="30.92" width="79.09" height="36.03" fill="#4270c0"/><rect x="242.22" y="29.92" width="29.13" height="18.57" fill="#fff"/><rect x="223.02" y="46.99" width="66.54" height="16.20" fill="#fff"/><polygon points="257.16 55.15 287.67 27.53 296.46 27.53 296.46 69.21 272.61 69.21" fill="#87b964" fill-opacity="0.58"/><path d="M242.22 46.99 L223.02 46.99 L223.02 63.18 L289.56 63.18 L289.56 46.99 L271.35 46.99 L271.35 30.92" fill="none" stroke="#f0ec30" stroke-width="0.75"/><path d="M257.16 27.15 L257.16 69.21 M218.62 63.68 L290.18 63.68 M242.22 46.61 L267.33 46.61" stroke="#444" stroke-width="0.25" fill="none"/><path d="M291.19 63.68 l-1.2 -0.6 v1.2 z" fill="#111"/><text x="292.69" y="64.58" font-size="2.8" font-family="DejaVu Sans, Liberation Sans, sans-serif" fill="#222">x</text><path d="M249.38 27.15 L242.22 34.31 M254.40 27.15 L242.22 39.33 M259.42 27.15 L242.22 44.35 M265.70 27.15 L232.43 61.68 M272.61 27.15 L238.08 61.68 " stroke="#e23b30" stroke-width="0.46" fill="none"/><path d="M232.43 61.68 l1.3 -0.3 l-1 -1 z" fill="#e23b30"/><path d="M238.08 61.68 l1.3 -0.3 l-1 -1 z" fill="#e23b30"/><path d="M242.22 31.17 L242.22 46.48" stroke="#e81c24" stroke-width="0.8" fill="none"/><path d="M242.98 33.81 l-1.0 0 l0.9 -0.8 z" fill="#e81c24"/><path d="M242.98 38.95 l-1.0 0 l0.9 -0.8 z" fill="#e81c24"/><path d="M242.98 44.09 l-1.0 0 l0.9 -0.8 z" fill="#e81c24"/><path d="M229.92 63.18 L242.48 63.18" stroke="#e8402a" stroke-width="0.7" fill="none"/><rect x="251.72" y="53.49" width="3.6" height="2.7" rx="0.3" fill="#000"/><path d="M254.72 54.84 l2.20 -1.3 v2.6 z" fill="#000"/><text x="253.82" y="53.09" font-size="2.9" font-weight="bold" font-family="DejaVu Sans, Liberation Sans, sans-serif" fill="#000" text-anchor="middle">ωo</text></g></g>
</svg></body></html>
